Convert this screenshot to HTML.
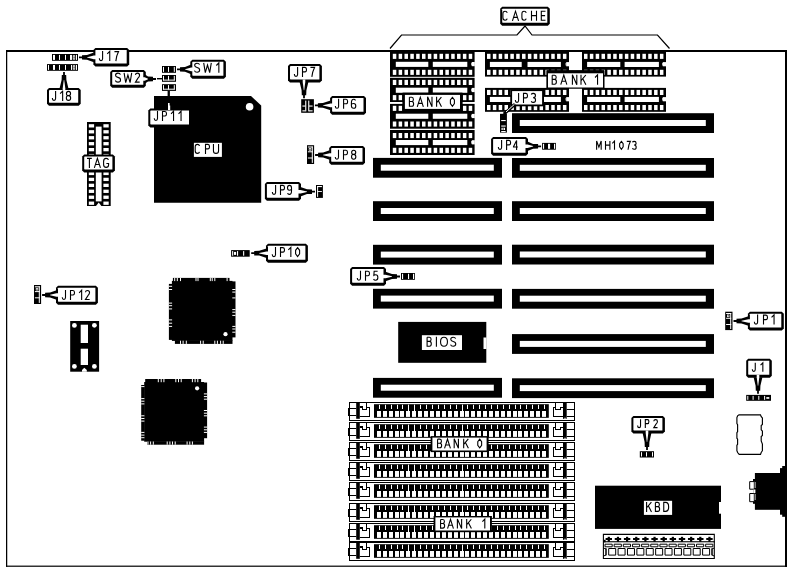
<!DOCTYPE html>
<html lang="en"><head><meta charset="utf-8"><title>MH1073 motherboard layout</title><style>
html,body{margin:0;padding:0;background:#fff;}
svg{display:block;font-family:"Liberation Sans",sans-serif;}
</style></head><body>
<svg width="791" height="572" viewBox="0 0 791 572" role="img" aria-label="MH1073 motherboard layout diagram">
<rect x="6.00" y="50.00" width="781.00" height="2.00" fill="#000" />
<rect x="6.00" y="565.60" width="781.00" height="1.20" fill="#000" />
<rect x="6.00" y="50.00" width="1.25" height="516.80" fill="#000" />
<rect x="785.00" y="50.00" width="2.00" height="517.00" fill="#000" />
<path d="M390,48.5 L401.5,35 H517 L525,26 L532,35 H657.5 L669.5,48.5" fill="none" stroke="#000" stroke-width="1.2" />
<rect x="390.00" y="50.50" width="84.60" height="26.30" fill="#000" />
<rect x="392.80" y="53.80" width="3.50" height="5.10" fill="#fff" />
<rect x="392.80" y="69.80" width="3.50" height="5.10" fill="#fff" />
<rect x="398.64" y="53.80" width="3.50" height="5.10" fill="#fff" />
<rect x="398.64" y="69.80" width="3.50" height="5.10" fill="#fff" />
<rect x="404.48" y="53.80" width="3.50" height="5.10" fill="#fff" />
<rect x="404.48" y="69.80" width="3.50" height="5.10" fill="#fff" />
<rect x="410.32" y="53.80" width="3.50" height="5.10" fill="#fff" />
<rect x="410.32" y="69.80" width="3.50" height="5.10" fill="#fff" />
<rect x="416.16" y="53.80" width="3.50" height="5.10" fill="#fff" />
<rect x="416.16" y="69.80" width="3.50" height="5.10" fill="#fff" />
<rect x="422.00" y="53.80" width="3.50" height="5.10" fill="#fff" />
<rect x="422.00" y="69.80" width="3.50" height="5.10" fill="#fff" />
<rect x="427.84" y="53.80" width="3.50" height="5.10" fill="#fff" />
<rect x="427.84" y="69.80" width="3.50" height="5.10" fill="#fff" />
<rect x="433.68" y="53.80" width="3.50" height="5.10" fill="#fff" />
<rect x="433.68" y="69.80" width="3.50" height="5.10" fill="#fff" />
<rect x="439.52" y="53.80" width="3.50" height="5.10" fill="#fff" />
<rect x="439.52" y="69.80" width="3.50" height="5.10" fill="#fff" />
<rect x="445.36" y="53.80" width="3.50" height="5.10" fill="#fff" />
<rect x="445.36" y="69.80" width="3.50" height="5.10" fill="#fff" />
<rect x="451.20" y="53.80" width="3.50" height="5.10" fill="#fff" />
<rect x="451.20" y="69.80" width="3.50" height="5.10" fill="#fff" />
<rect x="457.04" y="53.80" width="3.50" height="5.10" fill="#fff" />
<rect x="457.04" y="69.80" width="3.50" height="5.10" fill="#fff" />
<rect x="462.88" y="53.80" width="3.50" height="5.10" fill="#fff" />
<rect x="462.88" y="69.80" width="3.50" height="5.10" fill="#fff" />
<rect x="468.72" y="53.80" width="3.50" height="5.10" fill="#fff" />
<rect x="468.72" y="69.80" width="3.50" height="5.10" fill="#fff" />
<rect x="395.80" y="61.80" width="32.50" height="5.10" fill="#fff" />
<rect x="432.80" y="61.80" width="34.50" height="5.10" fill="#fff" />
<rect x="471.80" y="62.00" width="3.00" height="4.20" fill="#fff" />
<rect x="471.20" y="62.80" width="0.70" height="2.60" fill="#fff" />
<rect x="390.00" y="77.80" width="84.60" height="25.20" fill="#000" />
<rect x="392.80" y="79.90" width="3.50" height="5.10" fill="#fff" />
<rect x="392.80" y="95.10" width="3.50" height="5.10" fill="#fff" />
<rect x="398.64" y="79.90" width="3.50" height="5.10" fill="#fff" />
<rect x="398.64" y="95.10" width="3.50" height="5.10" fill="#fff" />
<rect x="404.48" y="79.90" width="3.50" height="5.10" fill="#fff" />
<rect x="404.48" y="95.10" width="3.50" height="5.10" fill="#fff" />
<rect x="410.32" y="79.90" width="3.50" height="5.10" fill="#fff" />
<rect x="410.32" y="95.10" width="3.50" height="5.10" fill="#fff" />
<rect x="416.16" y="79.90" width="3.50" height="5.10" fill="#fff" />
<rect x="416.16" y="95.10" width="3.50" height="5.10" fill="#fff" />
<rect x="422.00" y="79.90" width="3.50" height="5.10" fill="#fff" />
<rect x="422.00" y="95.10" width="3.50" height="5.10" fill="#fff" />
<rect x="427.84" y="79.90" width="3.50" height="5.10" fill="#fff" />
<rect x="427.84" y="95.10" width="3.50" height="5.10" fill="#fff" />
<rect x="433.68" y="79.90" width="3.50" height="5.10" fill="#fff" />
<rect x="433.68" y="95.10" width="3.50" height="5.10" fill="#fff" />
<rect x="439.52" y="79.90" width="3.50" height="5.10" fill="#fff" />
<rect x="439.52" y="95.10" width="3.50" height="5.10" fill="#fff" />
<rect x="445.36" y="79.90" width="3.50" height="5.10" fill="#fff" />
<rect x="445.36" y="95.10" width="3.50" height="5.10" fill="#fff" />
<rect x="451.20" y="79.90" width="3.50" height="5.10" fill="#fff" />
<rect x="451.20" y="95.10" width="3.50" height="5.10" fill="#fff" />
<rect x="457.04" y="79.90" width="3.50" height="5.10" fill="#fff" />
<rect x="457.04" y="95.10" width="3.50" height="5.10" fill="#fff" />
<rect x="462.88" y="79.90" width="3.50" height="5.10" fill="#fff" />
<rect x="462.88" y="95.10" width="3.50" height="5.10" fill="#fff" />
<rect x="468.72" y="79.90" width="3.50" height="5.10" fill="#fff" />
<rect x="468.72" y="95.10" width="3.50" height="5.10" fill="#fff" />
<rect x="395.80" y="87.70" width="32.50" height="5.10" fill="#fff" />
<rect x="432.80" y="87.70" width="34.50" height="5.10" fill="#fff" />
<rect x="471.80" y="87.90" width="3.00" height="4.20" fill="#fff" />
<rect x="471.20" y="88.70" width="0.70" height="2.60" fill="#fff" />
<rect x="390.00" y="103.00" width="84.60" height="25.70" fill="#000" />
<rect x="392.80" y="105.80" width="3.50" height="5.10" fill="#fff" />
<rect x="392.80" y="121.50" width="3.50" height="5.10" fill="#fff" />
<rect x="398.64" y="105.80" width="3.50" height="5.10" fill="#fff" />
<rect x="398.64" y="121.50" width="3.50" height="5.10" fill="#fff" />
<rect x="404.48" y="105.80" width="3.50" height="5.10" fill="#fff" />
<rect x="404.48" y="121.50" width="3.50" height="5.10" fill="#fff" />
<rect x="410.32" y="105.80" width="3.50" height="5.10" fill="#fff" />
<rect x="410.32" y="121.50" width="3.50" height="5.10" fill="#fff" />
<rect x="416.16" y="105.80" width="3.50" height="5.10" fill="#fff" />
<rect x="416.16" y="121.50" width="3.50" height="5.10" fill="#fff" />
<rect x="422.00" y="105.80" width="3.50" height="5.10" fill="#fff" />
<rect x="422.00" y="121.50" width="3.50" height="5.10" fill="#fff" />
<rect x="427.84" y="105.80" width="3.50" height="5.10" fill="#fff" />
<rect x="427.84" y="121.50" width="3.50" height="5.10" fill="#fff" />
<rect x="433.68" y="105.80" width="3.50" height="5.10" fill="#fff" />
<rect x="433.68" y="121.50" width="3.50" height="5.10" fill="#fff" />
<rect x="439.52" y="105.80" width="3.50" height="5.10" fill="#fff" />
<rect x="439.52" y="121.50" width="3.50" height="5.10" fill="#fff" />
<rect x="445.36" y="105.80" width="3.50" height="5.10" fill="#fff" />
<rect x="445.36" y="121.50" width="3.50" height="5.10" fill="#fff" />
<rect x="451.20" y="105.80" width="3.50" height="5.10" fill="#fff" />
<rect x="451.20" y="121.50" width="3.50" height="5.10" fill="#fff" />
<rect x="457.04" y="105.80" width="3.50" height="5.10" fill="#fff" />
<rect x="457.04" y="121.50" width="3.50" height="5.10" fill="#fff" />
<rect x="462.88" y="105.80" width="3.50" height="5.10" fill="#fff" />
<rect x="462.88" y="121.50" width="3.50" height="5.10" fill="#fff" />
<rect x="468.72" y="105.80" width="3.50" height="5.10" fill="#fff" />
<rect x="468.72" y="121.50" width="3.50" height="5.10" fill="#fff" />
<rect x="395.80" y="113.70" width="32.50" height="5.10" fill="#fff" />
<rect x="432.80" y="113.70" width="34.50" height="5.10" fill="#fff" />
<rect x="471.80" y="113.90" width="3.00" height="4.20" fill="#fff" />
<rect x="471.20" y="114.70" width="0.70" height="2.60" fill="#fff" />
<rect x="390.00" y="130.00" width="84.60" height="25.00" fill="#000" />
<rect x="392.80" y="133.00" width="3.50" height="5.10" fill="#fff" />
<rect x="392.80" y="147.80" width="3.50" height="5.10" fill="#fff" />
<rect x="398.64" y="133.00" width="3.50" height="5.10" fill="#fff" />
<rect x="398.64" y="147.80" width="3.50" height="5.10" fill="#fff" />
<rect x="404.48" y="133.00" width="3.50" height="5.10" fill="#fff" />
<rect x="404.48" y="147.80" width="3.50" height="5.10" fill="#fff" />
<rect x="410.32" y="133.00" width="3.50" height="5.10" fill="#fff" />
<rect x="410.32" y="147.80" width="3.50" height="5.10" fill="#fff" />
<rect x="416.16" y="133.00" width="3.50" height="5.10" fill="#fff" />
<rect x="416.16" y="147.80" width="3.50" height="5.10" fill="#fff" />
<rect x="422.00" y="133.00" width="3.50" height="5.10" fill="#fff" />
<rect x="422.00" y="147.80" width="3.50" height="5.10" fill="#fff" />
<rect x="427.84" y="133.00" width="3.50" height="5.10" fill="#fff" />
<rect x="427.84" y="147.80" width="3.50" height="5.10" fill="#fff" />
<rect x="433.68" y="133.00" width="3.50" height="5.10" fill="#fff" />
<rect x="433.68" y="147.80" width="3.50" height="5.10" fill="#fff" />
<rect x="439.52" y="133.00" width="3.50" height="5.10" fill="#fff" />
<rect x="439.52" y="147.80" width="3.50" height="5.10" fill="#fff" />
<rect x="445.36" y="133.00" width="3.50" height="5.10" fill="#fff" />
<rect x="445.36" y="147.80" width="3.50" height="5.10" fill="#fff" />
<rect x="451.20" y="133.00" width="3.50" height="5.10" fill="#fff" />
<rect x="451.20" y="147.80" width="3.50" height="5.10" fill="#fff" />
<rect x="457.04" y="133.00" width="3.50" height="5.10" fill="#fff" />
<rect x="457.04" y="147.80" width="3.50" height="5.10" fill="#fff" />
<rect x="462.88" y="133.00" width="3.50" height="5.10" fill="#fff" />
<rect x="462.88" y="147.80" width="3.50" height="5.10" fill="#fff" />
<rect x="468.72" y="133.00" width="3.50" height="5.10" fill="#fff" />
<rect x="468.72" y="147.80" width="3.50" height="5.10" fill="#fff" />
<rect x="395.80" y="140.00" width="32.50" height="5.10" fill="#fff" />
<rect x="432.80" y="140.00" width="34.50" height="5.10" fill="#fff" />
<rect x="471.80" y="140.20" width="3.00" height="4.20" fill="#fff" />
<rect x="471.20" y="141.00" width="0.70" height="2.60" fill="#fff" />
<rect x="485.00" y="50.50" width="84.00" height="26.10" fill="#000" />
<rect x="487.00" y="53.80" width="3.50" height="5.10" fill="#fff" />
<rect x="487.00" y="69.80" width="3.50" height="5.10" fill="#fff" />
<rect x="492.84" y="53.80" width="3.50" height="5.10" fill="#fff" />
<rect x="492.84" y="69.80" width="3.50" height="5.10" fill="#fff" />
<rect x="498.68" y="53.80" width="3.50" height="5.10" fill="#fff" />
<rect x="498.68" y="69.80" width="3.50" height="5.10" fill="#fff" />
<rect x="504.52" y="53.80" width="3.50" height="5.10" fill="#fff" />
<rect x="504.52" y="69.80" width="3.50" height="5.10" fill="#fff" />
<rect x="510.36" y="53.80" width="3.50" height="5.10" fill="#fff" />
<rect x="510.36" y="69.80" width="3.50" height="5.10" fill="#fff" />
<rect x="516.20" y="53.80" width="3.50" height="5.10" fill="#fff" />
<rect x="516.20" y="69.80" width="3.50" height="5.10" fill="#fff" />
<rect x="522.04" y="53.80" width="3.50" height="5.10" fill="#fff" />
<rect x="522.04" y="69.80" width="3.50" height="5.10" fill="#fff" />
<rect x="527.88" y="53.80" width="3.50" height="5.10" fill="#fff" />
<rect x="527.88" y="69.80" width="3.50" height="5.10" fill="#fff" />
<rect x="533.72" y="53.80" width="3.50" height="5.10" fill="#fff" />
<rect x="533.72" y="69.80" width="3.50" height="5.10" fill="#fff" />
<rect x="539.56" y="53.80" width="3.50" height="5.10" fill="#fff" />
<rect x="539.56" y="69.80" width="3.50" height="5.10" fill="#fff" />
<rect x="545.40" y="53.80" width="3.50" height="5.10" fill="#fff" />
<rect x="545.40" y="69.80" width="3.50" height="5.10" fill="#fff" />
<rect x="551.24" y="53.80" width="3.50" height="5.10" fill="#fff" />
<rect x="551.24" y="69.80" width="3.50" height="5.10" fill="#fff" />
<rect x="557.08" y="53.80" width="3.50" height="5.10" fill="#fff" />
<rect x="557.08" y="69.80" width="3.50" height="5.10" fill="#fff" />
<rect x="562.92" y="53.80" width="3.50" height="5.10" fill="#fff" />
<rect x="562.92" y="69.80" width="3.50" height="5.10" fill="#fff" />
<rect x="489.90" y="61.90" width="31.80" height="5.10" fill="#fff" />
<rect x="527.50" y="61.90" width="33.40" height="5.10" fill="#fff" />
<rect x="566.20" y="62.10" width="3.00" height="4.20" fill="#fff" />
<rect x="565.60" y="62.90" width="0.70" height="2.60" fill="#fff" />
<rect x="582.00" y="50.50" width="84.00" height="26.10" fill="#000" />
<rect x="584.00" y="53.80" width="3.50" height="5.10" fill="#fff" />
<rect x="584.00" y="69.80" width="3.50" height="5.10" fill="#fff" />
<rect x="589.84" y="53.80" width="3.50" height="5.10" fill="#fff" />
<rect x="589.84" y="69.80" width="3.50" height="5.10" fill="#fff" />
<rect x="595.68" y="53.80" width="3.50" height="5.10" fill="#fff" />
<rect x="595.68" y="69.80" width="3.50" height="5.10" fill="#fff" />
<rect x="601.52" y="53.80" width="3.50" height="5.10" fill="#fff" />
<rect x="601.52" y="69.80" width="3.50" height="5.10" fill="#fff" />
<rect x="607.36" y="53.80" width="3.50" height="5.10" fill="#fff" />
<rect x="607.36" y="69.80" width="3.50" height="5.10" fill="#fff" />
<rect x="613.20" y="53.80" width="3.50" height="5.10" fill="#fff" />
<rect x="613.20" y="69.80" width="3.50" height="5.10" fill="#fff" />
<rect x="619.04" y="53.80" width="3.50" height="5.10" fill="#fff" />
<rect x="619.04" y="69.80" width="3.50" height="5.10" fill="#fff" />
<rect x="624.88" y="53.80" width="3.50" height="5.10" fill="#fff" />
<rect x="624.88" y="69.80" width="3.50" height="5.10" fill="#fff" />
<rect x="630.72" y="53.80" width="3.50" height="5.10" fill="#fff" />
<rect x="630.72" y="69.80" width="3.50" height="5.10" fill="#fff" />
<rect x="636.56" y="53.80" width="3.50" height="5.10" fill="#fff" />
<rect x="636.56" y="69.80" width="3.50" height="5.10" fill="#fff" />
<rect x="642.40" y="53.80" width="3.50" height="5.10" fill="#fff" />
<rect x="642.40" y="69.80" width="3.50" height="5.10" fill="#fff" />
<rect x="648.24" y="53.80" width="3.50" height="5.10" fill="#fff" />
<rect x="648.24" y="69.80" width="3.50" height="5.10" fill="#fff" />
<rect x="654.08" y="53.80" width="3.50" height="5.10" fill="#fff" />
<rect x="654.08" y="69.80" width="3.50" height="5.10" fill="#fff" />
<rect x="659.92" y="53.80" width="3.50" height="5.10" fill="#fff" />
<rect x="659.92" y="69.80" width="3.50" height="5.10" fill="#fff" />
<rect x="587.10" y="61.90" width="33.20" height="5.10" fill="#fff" />
<rect x="624.60" y="61.90" width="34.30" height="5.10" fill="#fff" />
<rect x="662.80" y="62.10" width="3.40" height="4.20" fill="#fff" />
<rect x="662.20" y="62.90" width="0.70" height="2.60" fill="#fff" />
<rect x="485.00" y="87.90" width="84.00" height="23.90" fill="#000" />
<rect x="487.00" y="89.90" width="3.50" height="5.10" fill="#fff" />
<rect x="487.00" y="105.00" width="3.50" height="5.10" fill="#fff" />
<rect x="492.84" y="89.90" width="3.50" height="5.10" fill="#fff" />
<rect x="492.84" y="105.00" width="3.50" height="5.10" fill="#fff" />
<rect x="498.68" y="89.90" width="3.50" height="5.10" fill="#fff" />
<rect x="498.68" y="105.00" width="3.50" height="5.10" fill="#fff" />
<rect x="504.52" y="89.90" width="3.50" height="5.10" fill="#fff" />
<rect x="504.52" y="105.00" width="3.50" height="5.10" fill="#fff" />
<rect x="510.36" y="89.90" width="3.50" height="5.10" fill="#fff" />
<rect x="510.36" y="105.00" width="3.50" height="5.10" fill="#fff" />
<rect x="516.20" y="89.90" width="3.50" height="5.10" fill="#fff" />
<rect x="516.20" y="105.00" width="3.50" height="5.10" fill="#fff" />
<rect x="522.04" y="89.90" width="3.50" height="5.10" fill="#fff" />
<rect x="522.04" y="105.00" width="3.50" height="5.10" fill="#fff" />
<rect x="527.88" y="89.90" width="3.50" height="5.10" fill="#fff" />
<rect x="527.88" y="105.00" width="3.50" height="5.10" fill="#fff" />
<rect x="533.72" y="89.90" width="3.50" height="5.10" fill="#fff" />
<rect x="533.72" y="105.00" width="3.50" height="5.10" fill="#fff" />
<rect x="539.56" y="89.90" width="3.50" height="5.10" fill="#fff" />
<rect x="539.56" y="105.00" width="3.50" height="5.10" fill="#fff" />
<rect x="545.40" y="89.90" width="3.50" height="5.10" fill="#fff" />
<rect x="545.40" y="105.00" width="3.50" height="5.10" fill="#fff" />
<rect x="551.24" y="89.90" width="3.50" height="5.10" fill="#fff" />
<rect x="551.24" y="105.00" width="3.50" height="5.10" fill="#fff" />
<rect x="557.08" y="89.90" width="3.50" height="5.10" fill="#fff" />
<rect x="557.08" y="105.00" width="3.50" height="5.10" fill="#fff" />
<rect x="562.92" y="89.90" width="3.50" height="5.10" fill="#fff" />
<rect x="562.92" y="105.00" width="3.50" height="5.10" fill="#fff" />
<rect x="489.90" y="96.90" width="31.80" height="5.10" fill="#fff" />
<rect x="527.50" y="96.90" width="33.40" height="5.10" fill="#fff" />
<rect x="566.20" y="97.10" width="3.00" height="4.20" fill="#fff" />
<rect x="565.60" y="97.90" width="0.70" height="2.60" fill="#fff" />
<rect x="582.00" y="87.90" width="84.00" height="23.90" fill="#000" />
<rect x="584.00" y="89.90" width="3.50" height="5.10" fill="#fff" />
<rect x="584.00" y="105.00" width="3.50" height="5.10" fill="#fff" />
<rect x="589.84" y="89.90" width="3.50" height="5.10" fill="#fff" />
<rect x="589.84" y="105.00" width="3.50" height="5.10" fill="#fff" />
<rect x="595.68" y="89.90" width="3.50" height="5.10" fill="#fff" />
<rect x="595.68" y="105.00" width="3.50" height="5.10" fill="#fff" />
<rect x="601.52" y="89.90" width="3.50" height="5.10" fill="#fff" />
<rect x="601.52" y="105.00" width="3.50" height="5.10" fill="#fff" />
<rect x="607.36" y="89.90" width="3.50" height="5.10" fill="#fff" />
<rect x="607.36" y="105.00" width="3.50" height="5.10" fill="#fff" />
<rect x="613.20" y="89.90" width="3.50" height="5.10" fill="#fff" />
<rect x="613.20" y="105.00" width="3.50" height="5.10" fill="#fff" />
<rect x="619.04" y="89.90" width="3.50" height="5.10" fill="#fff" />
<rect x="619.04" y="105.00" width="3.50" height="5.10" fill="#fff" />
<rect x="624.88" y="89.90" width="3.50" height="5.10" fill="#fff" />
<rect x="624.88" y="105.00" width="3.50" height="5.10" fill="#fff" />
<rect x="630.72" y="89.90" width="3.50" height="5.10" fill="#fff" />
<rect x="630.72" y="105.00" width="3.50" height="5.10" fill="#fff" />
<rect x="636.56" y="89.90" width="3.50" height="5.10" fill="#fff" />
<rect x="636.56" y="105.00" width="3.50" height="5.10" fill="#fff" />
<rect x="642.40" y="89.90" width="3.50" height="5.10" fill="#fff" />
<rect x="642.40" y="105.00" width="3.50" height="5.10" fill="#fff" />
<rect x="648.24" y="89.90" width="3.50" height="5.10" fill="#fff" />
<rect x="648.24" y="105.00" width="3.50" height="5.10" fill="#fff" />
<rect x="654.08" y="89.90" width="3.50" height="5.10" fill="#fff" />
<rect x="654.08" y="105.00" width="3.50" height="5.10" fill="#fff" />
<rect x="659.92" y="89.90" width="3.50" height="5.10" fill="#fff" />
<rect x="659.92" y="105.00" width="3.50" height="5.10" fill="#fff" />
<rect x="587.10" y="96.90" width="33.20" height="5.10" fill="#fff" />
<rect x="624.60" y="96.90" width="34.30" height="5.10" fill="#fff" />
<rect x="662.80" y="97.10" width="3.40" height="4.20" fill="#fff" />
<rect x="662.20" y="97.90" width="0.70" height="2.60" fill="#fff" />
<rect x="390.00" y="102.00" width="85.00" height="1.90" fill="#fff" />
<rect x="373.00" y="157.90" width="129.00" height="19.80" fill="#000" />
<rect x="380.80" y="164.70" width="113.00" height="6.00" fill="#fff" />
<rect x="373.00" y="201.20" width="129.00" height="19.80" fill="#000" />
<rect x="380.80" y="208.00" width="113.00" height="6.00" fill="#fff" />
<rect x="373.00" y="244.80" width="129.00" height="19.80" fill="#000" />
<rect x="380.80" y="251.60" width="113.00" height="6.00" fill="#fff" />
<rect x="373.00" y="288.80" width="129.00" height="19.80" fill="#000" />
<rect x="380.80" y="295.60" width="113.00" height="6.00" fill="#fff" />
<rect x="373.00" y="377.90" width="129.00" height="19.80" fill="#000" />
<rect x="380.80" y="384.70" width="113.00" height="6.00" fill="#fff" />
<rect x="512.00" y="113.20" width="202.00" height="19.80" fill="#000" />
<rect x="519.80" y="120.00" width="186.00" height="6.00" fill="#fff" />
<rect x="512.00" y="158.00" width="202.00" height="19.80" fill="#000" />
<rect x="519.80" y="164.80" width="186.00" height="6.00" fill="#fff" />
<rect x="512.00" y="201.20" width="202.00" height="19.80" fill="#000" />
<rect x="519.80" y="208.00" width="186.00" height="6.00" fill="#fff" />
<rect x="512.00" y="244.70" width="202.00" height="19.80" fill="#000" />
<rect x="519.80" y="251.50" width="186.00" height="6.00" fill="#fff" />
<rect x="512.00" y="288.90" width="202.00" height="19.80" fill="#000" />
<rect x="519.80" y="295.70" width="186.00" height="6.00" fill="#fff" />
<rect x="512.00" y="334.10" width="202.00" height="19.80" fill="#000" />
<rect x="519.80" y="340.90" width="186.00" height="6.00" fill="#fff" />
<rect x="512.00" y="378.30" width="202.00" height="19.80" fill="#000" />
<rect x="519.80" y="385.10" width="186.00" height="6.00" fill="#fff" />
<rect x="398.20" y="321.90" width="88.10" height="40.90" fill="#000" />
<rect x="483.50" y="337.50" width="3.00" height="11.50" fill="#fff" />
<rect x="595.00" y="485.70" width="126.00" height="43.20" fill="#000" />
<rect x="719.00" y="502.00" width="2.20" height="11.70" fill="#fff" />
<path d="M154,96 H251 L261.2,105.5 V202.8 H154 Z" fill="#000" stroke="none" stroke-width="1" />
<circle cx="249.60" cy="106.80" r="3.8" fill="#fff"/>
<rect x="171.90" y="280.90" width="60.60" height="60.00" fill="#000" />
<rect x="172.90" y="277.90" width="56.60" height="3.50" fill="#000" />
<rect x="174.90" y="340.40" width="57.60" height="3.50" fill="#000" />
<rect x="168.90" y="283.90" width="3.50" height="56.00" fill="#000" />
<rect x="232.00" y="281.40" width="3.50" height="56.00" fill="#000" />
<rect x="174.20" y="277.90" width="1.00" height="3.20" fill="#fff" />
<rect x="176.80" y="277.90" width="1.00" height="3.20" fill="#fff" />
<rect x="180.00" y="277.90" width="1.00" height="3.20" fill="#fff" />
<rect x="195.50" y="277.90" width="1.00" height="3.20" fill="#fff" />
<rect x="197.50" y="277.90" width="1.00" height="3.20" fill="#fff" />
<rect x="209.80" y="277.90" width="1.00" height="3.20" fill="#fff" />
<rect x="211.70" y="277.90" width="1.00" height="3.20" fill="#fff" />
<rect x="214.30" y="277.90" width="1.00" height="3.20" fill="#fff" />
<rect x="226.60" y="277.90" width="1.00" height="3.20" fill="#fff" />
<rect x="180.00" y="340.70" width="1.00" height="3.20" fill="#fff" />
<rect x="182.60" y="340.70" width="1.00" height="3.20" fill="#fff" />
<rect x="185.80" y="340.70" width="1.00" height="3.20" fill="#fff" />
<rect x="200.10" y="340.70" width="1.00" height="3.20" fill="#fff" />
<rect x="202.70" y="340.70" width="1.00" height="3.20" fill="#fff" />
<rect x="214.30" y="340.70" width="1.00" height="3.20" fill="#fff" />
<rect x="216.90" y="340.70" width="1.00" height="3.20" fill="#fff" />
<rect x="220.10" y="340.70" width="1.00" height="3.20" fill="#fff" />
<rect x="222.70" y="340.70" width="1.00" height="3.20" fill="#fff" />
<rect x="168.90" y="285.80" width="3.20" height="1.00" fill="#fff" />
<rect x="168.90" y="289.00" width="3.20" height="1.00" fill="#fff" />
<rect x="168.90" y="302.60" width="3.20" height="1.00" fill="#fff" />
<rect x="168.90" y="305.20" width="3.20" height="1.00" fill="#fff" />
<rect x="168.90" y="308.40" width="3.20" height="1.00" fill="#fff" />
<rect x="168.90" y="319.40" width="3.20" height="1.00" fill="#fff" />
<rect x="168.90" y="322.70" width="3.20" height="1.00" fill="#fff" />
<rect x="168.90" y="325.90" width="3.20" height="1.00" fill="#fff" />
<rect x="232.30" y="289.00" width="3.20" height="1.00" fill="#fff" />
<rect x="232.30" y="291.60" width="3.20" height="1.00" fill="#fff" />
<rect x="232.30" y="297.40" width="3.20" height="1.00" fill="#fff" />
<rect x="232.30" y="309.10" width="3.20" height="1.00" fill="#fff" />
<rect x="232.30" y="311.70" width="3.20" height="1.00" fill="#fff" />
<rect x="232.30" y="314.90" width="3.20" height="1.00" fill="#fff" />
<rect x="232.30" y="325.90" width="3.20" height="1.00" fill="#fff" />
<rect x="232.30" y="328.50" width="3.20" height="1.00" fill="#fff" />
<rect x="232.30" y="331.70" width="3.20" height="1.00" fill="#fff" />
<circle cx="225.50" cy="334.20" r="2.1" fill="#fff"/>
<rect x="144.20" y="382.00" width="59.90" height="59.70" fill="#000" />
<rect x="145.20" y="379.00" width="55.90" height="3.50" fill="#000" />
<rect x="147.20" y="441.20" width="56.90" height="3.50" fill="#000" />
<rect x="141.20" y="385.00" width="3.50" height="55.70" fill="#000" />
<rect x="203.60" y="382.50" width="3.50" height="55.70" fill="#000" />
<rect x="157.80" y="379.00" width="1.00" height="3.20" fill="#fff" />
<rect x="160.70" y="379.00" width="1.00" height="3.20" fill="#fff" />
<rect x="163.40" y="379.00" width="1.00" height="3.20" fill="#fff" />
<rect x="175.30" y="379.00" width="1.00" height="3.20" fill="#fff" />
<rect x="178.00" y="379.00" width="1.00" height="3.20" fill="#fff" />
<rect x="180.70" y="379.00" width="1.00" height="3.20" fill="#fff" />
<rect x="191.90" y="379.00" width="1.00" height="3.20" fill="#fff" />
<rect x="194.60" y="379.00" width="1.00" height="3.20" fill="#fff" />
<rect x="197.30" y="379.00" width="1.00" height="3.20" fill="#fff" />
<rect x="147.50" y="441.50" width="1.00" height="3.20" fill="#fff" />
<rect x="150.10" y="441.50" width="1.00" height="3.20" fill="#fff" />
<rect x="152.80" y="441.50" width="1.00" height="3.20" fill="#fff" />
<rect x="166.70" y="441.50" width="1.00" height="3.20" fill="#fff" />
<rect x="169.40" y="441.50" width="1.00" height="3.20" fill="#fff" />
<rect x="172.00" y="441.50" width="1.00" height="3.20" fill="#fff" />
<rect x="174.70" y="441.50" width="1.00" height="3.20" fill="#fff" />
<rect x="186.60" y="441.50" width="1.00" height="3.20" fill="#fff" />
<rect x="189.30" y="441.50" width="1.00" height="3.20" fill="#fff" />
<rect x="191.90" y="441.50" width="1.00" height="3.20" fill="#fff" />
<rect x="141.20" y="386.10" width="3.20" height="1.00" fill="#fff" />
<rect x="141.20" y="398.10" width="3.20" height="1.00" fill="#fff" />
<rect x="141.20" y="400.70" width="3.20" height="1.00" fill="#fff" />
<rect x="141.20" y="403.40" width="3.20" height="1.00" fill="#fff" />
<rect x="141.20" y="415.30" width="3.20" height="1.00" fill="#fff" />
<rect x="141.20" y="418.00" width="3.20" height="1.00" fill="#fff" />
<rect x="141.20" y="420.60" width="3.20" height="1.00" fill="#fff" />
<rect x="141.20" y="431.90" width="3.20" height="1.00" fill="#fff" />
<rect x="141.20" y="434.60" width="3.20" height="1.00" fill="#fff" />
<rect x="141.20" y="437.20" width="3.20" height="1.00" fill="#fff" />
<rect x="203.90" y="393.40" width="3.20" height="1.00" fill="#fff" />
<rect x="203.90" y="396.10" width="3.20" height="1.00" fill="#fff" />
<rect x="203.90" y="398.70" width="3.20" height="1.00" fill="#fff" />
<rect x="203.90" y="410.00" width="3.20" height="1.00" fill="#fff" />
<rect x="203.90" y="412.70" width="3.20" height="1.00" fill="#fff" />
<rect x="203.90" y="415.30" width="3.20" height="1.00" fill="#fff" />
<rect x="203.90" y="426.60" width="3.20" height="1.00" fill="#fff" />
<rect x="203.90" y="429.30" width="3.20" height="1.00" fill="#fff" />
<rect x="203.90" y="431.90" width="3.20" height="1.00" fill="#fff" />
<circle cx="197.10" cy="388.30" r="2.1" fill="#fff"/>
<rect x="70.20" y="321.00" width="28.90" height="50.70" fill="#000" />
<rect x="80.70" y="324.70" width="7.30" height="18.30" fill="#fff" />
<rect x="80.70" y="348.70" width="7.30" height="16.30" fill="#fff" />
<circle cx="74.40" cy="325.40" r="2.4" fill="#fff"/>
<circle cx="94.40" cy="325.30" r="2.4" fill="#fff"/>
<circle cx="74.40" cy="366.40" r="2.4" fill="#fff"/>
<circle cx="94.40" cy="366.40" r="2.4" fill="#fff"/>
<path d="M82,371.8 V370 L84.3,367.8 L86.8,370 V371.8 Z" fill="#fff" stroke="none" stroke-width="1" />
<rect x="87.00" y="122.00" width="23.70" height="84.00" fill="#000" />
<rect x="95.80" y="126.60" width="5.80" height="74.80" fill="#fff" />
<rect x="88.80" y="124.20" width="5.30" height="3.30" fill="#fff" />
<rect x="103.40" y="124.20" width="5.30" height="3.30" fill="#fff" />
<rect x="88.80" y="130.15" width="5.30" height="3.30" fill="#fff" />
<rect x="103.40" y="130.15" width="5.30" height="3.30" fill="#fff" />
<rect x="88.80" y="136.10" width="5.30" height="3.30" fill="#fff" />
<rect x="103.40" y="136.10" width="5.30" height="3.30" fill="#fff" />
<rect x="88.80" y="142.05" width="5.30" height="3.30" fill="#fff" />
<rect x="103.40" y="142.05" width="5.30" height="3.30" fill="#fff" />
<rect x="88.80" y="148.00" width="5.30" height="3.30" fill="#fff" />
<rect x="103.40" y="148.00" width="5.30" height="3.30" fill="#fff" />
<rect x="88.80" y="153.95" width="5.30" height="3.30" fill="#fff" />
<rect x="103.40" y="153.95" width="5.30" height="3.30" fill="#fff" />
<rect x="88.80" y="159.90" width="5.30" height="3.30" fill="#fff" />
<rect x="103.40" y="159.90" width="5.30" height="3.30" fill="#fff" />
<rect x="88.80" y="165.85" width="5.30" height="3.30" fill="#fff" />
<rect x="103.40" y="165.85" width="5.30" height="3.30" fill="#fff" />
<rect x="88.80" y="171.80" width="5.30" height="3.30" fill="#fff" />
<rect x="103.40" y="171.80" width="5.30" height="3.30" fill="#fff" />
<rect x="88.80" y="177.75" width="5.30" height="3.30" fill="#fff" />
<rect x="103.40" y="177.75" width="5.30" height="3.30" fill="#fff" />
<rect x="88.80" y="183.70" width="5.30" height="3.30" fill="#fff" />
<rect x="103.40" y="183.70" width="5.30" height="3.30" fill="#fff" />
<rect x="88.80" y="189.65" width="5.30" height="3.30" fill="#fff" />
<rect x="103.40" y="189.65" width="5.30" height="3.30" fill="#fff" />
<rect x="88.80" y="195.60" width="5.30" height="3.30" fill="#fff" />
<rect x="103.40" y="195.60" width="5.30" height="3.30" fill="#fff" />
<rect x="88.80" y="201.55" width="5.30" height="3.30" fill="#fff" />
<rect x="103.40" y="201.55" width="5.30" height="3.30" fill="#fff" />
<path d="M96,206 L98.7,202.5 L101.4,206 Z" fill="#fff" stroke="none" stroke-width="1" />
<rect x="349.00" y="402.00" width="226.00" height="1.00" fill="#000" />
<rect x="349.00" y="420.00" width="226.00" height="1.00" fill="#000" />
<rect x="349.00" y="402.00" width="1.00" height="19.00" fill="#000" />
<rect x="574.00" y="402.00" width="1.00" height="19.00" fill="#000" />
<rect x="348.00" y="408.00" width="8.20" height="1.00" fill="#000" />
<rect x="348.00" y="408.00" width="1.00" height="8.00" fill="#000" />
<rect x="348.00" y="415.00" width="8.20" height="1.00" fill="#000" />
<rect x="356.20" y="402.00" width="3.60" height="16.80" fill="#000" />
<rect x="366.00" y="403.00" width="1.00" height="6.00" fill="#000" />
<rect x="362.00" y="409.00" width="5.00" height="1.00" fill="#000" />
<rect x="359.80" y="406.00" width="3.00" height="2.00" fill="#000" />
<rect x="362.00" y="406.00" width="1.00" height="4.00" fill="#000" />
<rect x="366.00" y="407.00" width="4.00" height="1.00" fill="#000" />
<rect x="369.00" y="407.00" width="1.00" height="10.00" fill="#000" />
<rect x="359.80" y="416.00" width="10.20" height="1.00" fill="#000" />
<rect x="374.00" y="404.20" width="174.80" height="13.60" fill="#000" />
<rect x="379.00" y="404.80" width="1.00" height="4.20" fill="#fff" />
<rect x="377.00" y="411.00" width="4.00" height="5.90" fill="#fff" />
<rect x="385.00" y="404.80" width="1.00" height="4.20" fill="#fff" />
<rect x="383.00" y="411.00" width="4.00" height="5.90" fill="#fff" />
<rect x="391.00" y="404.80" width="1.00" height="4.20" fill="#fff" />
<rect x="389.00" y="411.00" width="4.00" height="5.90" fill="#fff" />
<rect x="397.00" y="404.80" width="1.00" height="4.20" fill="#fff" />
<rect x="395.00" y="411.00" width="4.00" height="5.90" fill="#fff" />
<rect x="402.00" y="404.80" width="1.00" height="4.20" fill="#fff" />
<rect x="400.00" y="411.00" width="4.00" height="5.90" fill="#fff" />
<rect x="408.00" y="404.80" width="1.00" height="4.20" fill="#fff" />
<rect x="406.00" y="411.00" width="4.00" height="5.90" fill="#fff" />
<rect x="414.00" y="404.80" width="1.00" height="4.20" fill="#fff" />
<rect x="412.00" y="411.00" width="4.00" height="5.90" fill="#fff" />
<rect x="420.00" y="404.80" width="1.00" height="4.20" fill="#fff" />
<rect x="418.00" y="411.00" width="4.00" height="5.90" fill="#fff" />
<rect x="426.00" y="404.80" width="1.00" height="4.20" fill="#fff" />
<rect x="424.00" y="411.00" width="4.00" height="5.90" fill="#fff" />
<rect x="432.00" y="404.80" width="1.00" height="4.20" fill="#fff" />
<rect x="430.00" y="411.00" width="4.00" height="5.90" fill="#fff" />
<rect x="438.00" y="404.80" width="1.00" height="4.20" fill="#fff" />
<rect x="436.00" y="411.00" width="4.00" height="5.90" fill="#fff" />
<rect x="444.00" y="404.80" width="1.00" height="4.20" fill="#fff" />
<rect x="442.00" y="411.00" width="4.00" height="5.90" fill="#fff" />
<rect x="450.00" y="404.80" width="1.00" height="4.20" fill="#fff" />
<rect x="448.00" y="411.00" width="4.00" height="5.90" fill="#fff" />
<rect x="456.00" y="404.80" width="1.00" height="4.20" fill="#fff" />
<rect x="454.00" y="411.00" width="4.00" height="5.90" fill="#fff" />
<rect x="462.00" y="404.80" width="1.00" height="4.20" fill="#fff" />
<rect x="460.00" y="411.00" width="4.00" height="5.90" fill="#fff" />
<rect x="467.00" y="404.80" width="1.00" height="4.20" fill="#fff" />
<rect x="465.00" y="411.00" width="4.00" height="5.90" fill="#fff" />
<rect x="473.00" y="404.80" width="1.00" height="4.20" fill="#fff" />
<rect x="471.00" y="411.00" width="4.00" height="5.90" fill="#fff" />
<rect x="479.00" y="404.80" width="1.00" height="4.20" fill="#fff" />
<rect x="477.00" y="411.00" width="4.00" height="5.90" fill="#fff" />
<rect x="485.00" y="404.80" width="1.00" height="4.20" fill="#fff" />
<rect x="483.00" y="411.00" width="4.00" height="5.90" fill="#fff" />
<rect x="491.00" y="404.80" width="1.00" height="4.20" fill="#fff" />
<rect x="489.00" y="411.00" width="4.00" height="5.90" fill="#fff" />
<rect x="497.00" y="404.80" width="1.00" height="4.20" fill="#fff" />
<rect x="495.00" y="411.00" width="4.00" height="5.90" fill="#fff" />
<rect x="503.00" y="404.80" width="1.00" height="4.20" fill="#fff" />
<rect x="501.00" y="411.00" width="4.00" height="5.90" fill="#fff" />
<rect x="509.00" y="404.80" width="1.00" height="4.20" fill="#fff" />
<rect x="507.00" y="411.00" width="4.00" height="5.90" fill="#fff" />
<rect x="515.00" y="404.80" width="1.00" height="4.20" fill="#fff" />
<rect x="513.00" y="411.00" width="4.00" height="5.90" fill="#fff" />
<rect x="520.00" y="404.80" width="1.00" height="4.20" fill="#fff" />
<rect x="518.00" y="411.00" width="4.00" height="5.90" fill="#fff" />
<rect x="526.00" y="404.80" width="1.00" height="4.20" fill="#fff" />
<rect x="524.00" y="411.00" width="4.00" height="5.90" fill="#fff" />
<rect x="532.00" y="404.80" width="1.00" height="4.20" fill="#fff" />
<rect x="530.00" y="411.00" width="4.00" height="5.90" fill="#fff" />
<rect x="538.00" y="404.80" width="1.00" height="4.20" fill="#fff" />
<rect x="536.00" y="411.00" width="4.00" height="5.90" fill="#fff" />
<rect x="544.00" y="404.80" width="1.00" height="4.20" fill="#fff" />
<rect x="542.00" y="411.00" width="4.00" height="5.90" fill="#fff" />
<rect x="408.00" y="404.80" width="1.00" height="7.00" fill="#fff" />
<rect x="414.00" y="404.80" width="1.00" height="7.00" fill="#fff" />
<rect x="462.00" y="404.80" width="1.00" height="7.00" fill="#fff" />
<rect x="563.00" y="402.00" width="3.70" height="16.80" fill="#000" />
<rect x="564.40" y="417.70" width="1.20" height="1.20" fill="#fff" />
<rect x="566.70" y="409.00" width="7.50" height="1.00" fill="#000" />
<rect x="566.70" y="416.00" width="7.50" height="1.00" fill="#000" />
<rect x="555.00" y="403.00" width="1.00" height="6.00" fill="#000" />
<rect x="555.00" y="409.00" width="6.00" height="1.00" fill="#000" />
<rect x="560.00" y="407.00" width="1.00" height="3.00" fill="#000" />
<rect x="560.00" y="407.00" width="3.00" height="1.00" fill="#000" />
<rect x="553.00" y="407.00" width="1.00" height="10.00" fill="#000" />
<rect x="553.00" y="407.00" width="3.00" height="1.00" fill="#000" />
<rect x="553.00" y="416.00" width="10.00" height="1.00" fill="#000" />
<rect x="349.00" y="422.00" width="226.00" height="1.00" fill="#000" />
<rect x="349.00" y="440.00" width="226.00" height="1.00" fill="#000" />
<rect x="349.00" y="422.00" width="1.00" height="19.00" fill="#000" />
<rect x="574.00" y="422.00" width="1.00" height="19.00" fill="#000" />
<rect x="348.00" y="428.00" width="8.20" height="1.00" fill="#000" />
<rect x="348.00" y="428.00" width="1.00" height="8.00" fill="#000" />
<rect x="348.00" y="435.00" width="8.20" height="1.00" fill="#000" />
<rect x="356.20" y="422.00" width="3.60" height="16.80" fill="#000" />
<rect x="366.00" y="423.00" width="1.00" height="6.00" fill="#000" />
<rect x="362.00" y="429.00" width="5.00" height="1.00" fill="#000" />
<rect x="359.80" y="426.00" width="3.00" height="2.00" fill="#000" />
<rect x="362.00" y="426.00" width="1.00" height="4.00" fill="#000" />
<rect x="366.00" y="427.00" width="4.00" height="1.00" fill="#000" />
<rect x="369.00" y="427.00" width="1.00" height="10.00" fill="#000" />
<rect x="359.80" y="436.00" width="10.20" height="1.00" fill="#000" />
<rect x="374.00" y="424.20" width="174.80" height="13.60" fill="#000" />
<rect x="379.00" y="424.80" width="1.00" height="4.20" fill="#fff" />
<rect x="377.00" y="431.00" width="4.00" height="5.90" fill="#fff" />
<rect x="385.00" y="424.80" width="1.00" height="4.20" fill="#fff" />
<rect x="383.00" y="431.00" width="4.00" height="5.90" fill="#fff" />
<rect x="391.00" y="424.80" width="1.00" height="4.20" fill="#fff" />
<rect x="389.00" y="431.00" width="4.00" height="5.90" fill="#fff" />
<rect x="397.00" y="424.80" width="1.00" height="4.20" fill="#fff" />
<rect x="395.00" y="431.00" width="4.00" height="5.90" fill="#fff" />
<rect x="402.00" y="424.80" width="1.00" height="4.20" fill="#fff" />
<rect x="400.00" y="431.00" width="4.00" height="5.90" fill="#fff" />
<rect x="408.00" y="424.80" width="1.00" height="4.20" fill="#fff" />
<rect x="406.00" y="431.00" width="4.00" height="5.90" fill="#fff" />
<rect x="414.00" y="424.80" width="1.00" height="4.20" fill="#fff" />
<rect x="412.00" y="431.00" width="4.00" height="5.90" fill="#fff" />
<rect x="420.00" y="424.80" width="1.00" height="4.20" fill="#fff" />
<rect x="418.00" y="431.00" width="4.00" height="5.90" fill="#fff" />
<rect x="426.00" y="424.80" width="1.00" height="4.20" fill="#fff" />
<rect x="424.00" y="431.00" width="4.00" height="5.90" fill="#fff" />
<rect x="432.00" y="424.80" width="1.00" height="4.20" fill="#fff" />
<rect x="430.00" y="431.00" width="4.00" height="5.90" fill="#fff" />
<rect x="438.00" y="424.80" width="1.00" height="4.20" fill="#fff" />
<rect x="436.00" y="431.00" width="4.00" height="5.90" fill="#fff" />
<rect x="444.00" y="424.80" width="1.00" height="4.20" fill="#fff" />
<rect x="442.00" y="431.00" width="4.00" height="5.90" fill="#fff" />
<rect x="450.00" y="424.80" width="1.00" height="4.20" fill="#fff" />
<rect x="448.00" y="431.00" width="4.00" height="5.90" fill="#fff" />
<rect x="456.00" y="424.80" width="1.00" height="4.20" fill="#fff" />
<rect x="454.00" y="431.00" width="4.00" height="5.90" fill="#fff" />
<rect x="462.00" y="424.80" width="1.00" height="4.20" fill="#fff" />
<rect x="460.00" y="431.00" width="4.00" height="5.90" fill="#fff" />
<rect x="467.00" y="424.80" width="1.00" height="4.20" fill="#fff" />
<rect x="465.00" y="431.00" width="4.00" height="5.90" fill="#fff" />
<rect x="473.00" y="424.80" width="1.00" height="4.20" fill="#fff" />
<rect x="471.00" y="431.00" width="4.00" height="5.90" fill="#fff" />
<rect x="479.00" y="424.80" width="1.00" height="4.20" fill="#fff" />
<rect x="477.00" y="431.00" width="4.00" height="5.90" fill="#fff" />
<rect x="485.00" y="424.80" width="1.00" height="4.20" fill="#fff" />
<rect x="483.00" y="431.00" width="4.00" height="5.90" fill="#fff" />
<rect x="491.00" y="424.80" width="1.00" height="4.20" fill="#fff" />
<rect x="489.00" y="431.00" width="4.00" height="5.90" fill="#fff" />
<rect x="497.00" y="424.80" width="1.00" height="4.20" fill="#fff" />
<rect x="495.00" y="431.00" width="4.00" height="5.90" fill="#fff" />
<rect x="503.00" y="424.80" width="1.00" height="4.20" fill="#fff" />
<rect x="501.00" y="431.00" width="4.00" height="5.90" fill="#fff" />
<rect x="509.00" y="424.80" width="1.00" height="4.20" fill="#fff" />
<rect x="507.00" y="431.00" width="4.00" height="5.90" fill="#fff" />
<rect x="515.00" y="424.80" width="1.00" height="4.20" fill="#fff" />
<rect x="513.00" y="431.00" width="4.00" height="5.90" fill="#fff" />
<rect x="520.00" y="424.80" width="1.00" height="4.20" fill="#fff" />
<rect x="518.00" y="431.00" width="4.00" height="5.90" fill="#fff" />
<rect x="526.00" y="424.80" width="1.00" height="4.20" fill="#fff" />
<rect x="524.00" y="431.00" width="4.00" height="5.90" fill="#fff" />
<rect x="532.00" y="424.80" width="1.00" height="4.20" fill="#fff" />
<rect x="530.00" y="431.00" width="4.00" height="5.90" fill="#fff" />
<rect x="538.00" y="424.80" width="1.00" height="4.20" fill="#fff" />
<rect x="536.00" y="431.00" width="4.00" height="5.90" fill="#fff" />
<rect x="544.00" y="424.80" width="1.00" height="4.20" fill="#fff" />
<rect x="542.00" y="431.00" width="4.00" height="5.90" fill="#fff" />
<rect x="408.00" y="424.80" width="1.00" height="7.00" fill="#fff" />
<rect x="414.00" y="424.80" width="1.00" height="7.00" fill="#fff" />
<rect x="462.00" y="424.80" width="1.00" height="7.00" fill="#fff" />
<rect x="563.00" y="422.00" width="3.70" height="16.80" fill="#000" />
<rect x="564.40" y="437.70" width="1.20" height="1.20" fill="#fff" />
<rect x="566.70" y="429.00" width="7.50" height="1.00" fill="#000" />
<rect x="566.70" y="436.00" width="7.50" height="1.00" fill="#000" />
<rect x="555.00" y="423.00" width="1.00" height="6.00" fill="#000" />
<rect x="555.00" y="429.00" width="6.00" height="1.00" fill="#000" />
<rect x="560.00" y="427.00" width="1.00" height="3.00" fill="#000" />
<rect x="560.00" y="427.00" width="3.00" height="1.00" fill="#000" />
<rect x="553.00" y="427.00" width="1.00" height="10.00" fill="#000" />
<rect x="553.00" y="427.00" width="3.00" height="1.00" fill="#000" />
<rect x="553.00" y="436.00" width="10.00" height="1.00" fill="#000" />
<rect x="349.00" y="442.00" width="226.00" height="1.00" fill="#000" />
<rect x="349.00" y="460.00" width="226.00" height="1.00" fill="#000" />
<rect x="349.00" y="442.00" width="1.00" height="19.00" fill="#000" />
<rect x="574.00" y="442.00" width="1.00" height="19.00" fill="#000" />
<rect x="348.00" y="448.00" width="8.20" height="1.00" fill="#000" />
<rect x="348.00" y="448.00" width="1.00" height="8.00" fill="#000" />
<rect x="348.00" y="455.00" width="8.20" height="1.00" fill="#000" />
<rect x="356.20" y="442.00" width="3.60" height="16.80" fill="#000" />
<rect x="366.00" y="443.00" width="1.00" height="6.00" fill="#000" />
<rect x="362.00" y="449.00" width="5.00" height="1.00" fill="#000" />
<rect x="359.80" y="446.00" width="3.00" height="2.00" fill="#000" />
<rect x="362.00" y="446.00" width="1.00" height="4.00" fill="#000" />
<rect x="366.00" y="447.00" width="4.00" height="1.00" fill="#000" />
<rect x="369.00" y="447.00" width="1.00" height="10.00" fill="#000" />
<rect x="359.80" y="456.00" width="10.20" height="1.00" fill="#000" />
<rect x="374.00" y="444.20" width="174.80" height="13.60" fill="#000" />
<rect x="379.00" y="444.80" width="1.00" height="4.20" fill="#fff" />
<rect x="377.00" y="451.00" width="4.00" height="5.90" fill="#fff" />
<rect x="385.00" y="444.80" width="1.00" height="4.20" fill="#fff" />
<rect x="383.00" y="451.00" width="4.00" height="5.90" fill="#fff" />
<rect x="391.00" y="444.80" width="1.00" height="4.20" fill="#fff" />
<rect x="389.00" y="451.00" width="4.00" height="5.90" fill="#fff" />
<rect x="397.00" y="444.80" width="1.00" height="4.20" fill="#fff" />
<rect x="395.00" y="451.00" width="4.00" height="5.90" fill="#fff" />
<rect x="402.00" y="444.80" width="1.00" height="4.20" fill="#fff" />
<rect x="400.00" y="451.00" width="4.00" height="5.90" fill="#fff" />
<rect x="408.00" y="444.80" width="1.00" height="4.20" fill="#fff" />
<rect x="406.00" y="451.00" width="4.00" height="5.90" fill="#fff" />
<rect x="414.00" y="444.80" width="1.00" height="4.20" fill="#fff" />
<rect x="412.00" y="451.00" width="4.00" height="5.90" fill="#fff" />
<rect x="420.00" y="444.80" width="1.00" height="4.20" fill="#fff" />
<rect x="418.00" y="451.00" width="4.00" height="5.90" fill="#fff" />
<rect x="426.00" y="444.80" width="1.00" height="4.20" fill="#fff" />
<rect x="424.00" y="451.00" width="4.00" height="5.90" fill="#fff" />
<rect x="432.00" y="444.80" width="1.00" height="4.20" fill="#fff" />
<rect x="430.00" y="451.00" width="4.00" height="5.90" fill="#fff" />
<rect x="438.00" y="444.80" width="1.00" height="4.20" fill="#fff" />
<rect x="436.00" y="451.00" width="4.00" height="5.90" fill="#fff" />
<rect x="444.00" y="444.80" width="1.00" height="4.20" fill="#fff" />
<rect x="442.00" y="451.00" width="4.00" height="5.90" fill="#fff" />
<rect x="450.00" y="444.80" width="1.00" height="4.20" fill="#fff" />
<rect x="448.00" y="451.00" width="4.00" height="5.90" fill="#fff" />
<rect x="456.00" y="444.80" width="1.00" height="4.20" fill="#fff" />
<rect x="454.00" y="451.00" width="4.00" height="5.90" fill="#fff" />
<rect x="462.00" y="444.80" width="1.00" height="4.20" fill="#fff" />
<rect x="460.00" y="451.00" width="4.00" height="5.90" fill="#fff" />
<rect x="467.00" y="444.80" width="1.00" height="4.20" fill="#fff" />
<rect x="465.00" y="451.00" width="4.00" height="5.90" fill="#fff" />
<rect x="473.00" y="444.80" width="1.00" height="4.20" fill="#fff" />
<rect x="471.00" y="451.00" width="4.00" height="5.90" fill="#fff" />
<rect x="479.00" y="444.80" width="1.00" height="4.20" fill="#fff" />
<rect x="477.00" y="451.00" width="4.00" height="5.90" fill="#fff" />
<rect x="485.00" y="444.80" width="1.00" height="4.20" fill="#fff" />
<rect x="483.00" y="451.00" width="4.00" height="5.90" fill="#fff" />
<rect x="491.00" y="444.80" width="1.00" height="4.20" fill="#fff" />
<rect x="489.00" y="451.00" width="4.00" height="5.90" fill="#fff" />
<rect x="497.00" y="444.80" width="1.00" height="4.20" fill="#fff" />
<rect x="495.00" y="451.00" width="4.00" height="5.90" fill="#fff" />
<rect x="503.00" y="444.80" width="1.00" height="4.20" fill="#fff" />
<rect x="501.00" y="451.00" width="4.00" height="5.90" fill="#fff" />
<rect x="509.00" y="444.80" width="1.00" height="4.20" fill="#fff" />
<rect x="507.00" y="451.00" width="4.00" height="5.90" fill="#fff" />
<rect x="515.00" y="444.80" width="1.00" height="4.20" fill="#fff" />
<rect x="513.00" y="451.00" width="4.00" height="5.90" fill="#fff" />
<rect x="520.00" y="444.80" width="1.00" height="4.20" fill="#fff" />
<rect x="518.00" y="451.00" width="4.00" height="5.90" fill="#fff" />
<rect x="526.00" y="444.80" width="1.00" height="4.20" fill="#fff" />
<rect x="524.00" y="451.00" width="4.00" height="5.90" fill="#fff" />
<rect x="532.00" y="444.80" width="1.00" height="4.20" fill="#fff" />
<rect x="530.00" y="451.00" width="4.00" height="5.90" fill="#fff" />
<rect x="538.00" y="444.80" width="1.00" height="4.20" fill="#fff" />
<rect x="536.00" y="451.00" width="4.00" height="5.90" fill="#fff" />
<rect x="544.00" y="444.80" width="1.00" height="4.20" fill="#fff" />
<rect x="542.00" y="451.00" width="4.00" height="5.90" fill="#fff" />
<rect x="408.00" y="444.80" width="1.00" height="7.00" fill="#fff" />
<rect x="414.00" y="444.80" width="1.00" height="7.00" fill="#fff" />
<rect x="462.00" y="444.80" width="1.00" height="7.00" fill="#fff" />
<rect x="563.00" y="442.00" width="3.70" height="16.80" fill="#000" />
<rect x="564.40" y="457.70" width="1.20" height="1.20" fill="#fff" />
<rect x="566.70" y="449.00" width="7.50" height="1.00" fill="#000" />
<rect x="566.70" y="456.00" width="7.50" height="1.00" fill="#000" />
<rect x="555.00" y="443.00" width="1.00" height="6.00" fill="#000" />
<rect x="555.00" y="449.00" width="6.00" height="1.00" fill="#000" />
<rect x="560.00" y="447.00" width="1.00" height="3.00" fill="#000" />
<rect x="560.00" y="447.00" width="3.00" height="1.00" fill="#000" />
<rect x="553.00" y="447.00" width="1.00" height="10.00" fill="#000" />
<rect x="553.00" y="447.00" width="3.00" height="1.00" fill="#000" />
<rect x="553.00" y="456.00" width="10.00" height="1.00" fill="#000" />
<rect x="349.00" y="462.00" width="226.00" height="1.00" fill="#000" />
<rect x="349.00" y="480.00" width="226.00" height="1.00" fill="#000" />
<rect x="349.00" y="462.00" width="1.00" height="19.00" fill="#000" />
<rect x="574.00" y="462.00" width="1.00" height="19.00" fill="#000" />
<rect x="348.00" y="468.00" width="8.20" height="1.00" fill="#000" />
<rect x="348.00" y="468.00" width="1.00" height="8.00" fill="#000" />
<rect x="348.00" y="475.00" width="8.20" height="1.00" fill="#000" />
<rect x="356.20" y="462.00" width="3.60" height="16.80" fill="#000" />
<rect x="366.00" y="463.00" width="1.00" height="6.00" fill="#000" />
<rect x="362.00" y="469.00" width="5.00" height="1.00" fill="#000" />
<rect x="359.80" y="466.00" width="3.00" height="2.00" fill="#000" />
<rect x="362.00" y="466.00" width="1.00" height="4.00" fill="#000" />
<rect x="366.00" y="467.00" width="4.00" height="1.00" fill="#000" />
<rect x="369.00" y="467.00" width="1.00" height="10.00" fill="#000" />
<rect x="359.80" y="476.00" width="10.20" height="1.00" fill="#000" />
<rect x="374.00" y="464.20" width="174.80" height="13.60" fill="#000" />
<rect x="379.00" y="464.80" width="1.00" height="4.20" fill="#fff" />
<rect x="377.00" y="471.00" width="4.00" height="5.90" fill="#fff" />
<rect x="385.00" y="464.80" width="1.00" height="4.20" fill="#fff" />
<rect x="383.00" y="471.00" width="4.00" height="5.90" fill="#fff" />
<rect x="391.00" y="464.80" width="1.00" height="4.20" fill="#fff" />
<rect x="389.00" y="471.00" width="4.00" height="5.90" fill="#fff" />
<rect x="397.00" y="464.80" width="1.00" height="4.20" fill="#fff" />
<rect x="395.00" y="471.00" width="4.00" height="5.90" fill="#fff" />
<rect x="402.00" y="464.80" width="1.00" height="4.20" fill="#fff" />
<rect x="400.00" y="471.00" width="4.00" height="5.90" fill="#fff" />
<rect x="408.00" y="464.80" width="1.00" height="4.20" fill="#fff" />
<rect x="406.00" y="471.00" width="4.00" height="5.90" fill="#fff" />
<rect x="414.00" y="464.80" width="1.00" height="4.20" fill="#fff" />
<rect x="412.00" y="471.00" width="4.00" height="5.90" fill="#fff" />
<rect x="420.00" y="464.80" width="1.00" height="4.20" fill="#fff" />
<rect x="418.00" y="471.00" width="4.00" height="5.90" fill="#fff" />
<rect x="426.00" y="464.80" width="1.00" height="4.20" fill="#fff" />
<rect x="424.00" y="471.00" width="4.00" height="5.90" fill="#fff" />
<rect x="432.00" y="464.80" width="1.00" height="4.20" fill="#fff" />
<rect x="430.00" y="471.00" width="4.00" height="5.90" fill="#fff" />
<rect x="438.00" y="464.80" width="1.00" height="4.20" fill="#fff" />
<rect x="436.00" y="471.00" width="4.00" height="5.90" fill="#fff" />
<rect x="444.00" y="464.80" width="1.00" height="4.20" fill="#fff" />
<rect x="442.00" y="471.00" width="4.00" height="5.90" fill="#fff" />
<rect x="450.00" y="464.80" width="1.00" height="4.20" fill="#fff" />
<rect x="448.00" y="471.00" width="4.00" height="5.90" fill="#fff" />
<rect x="456.00" y="464.80" width="1.00" height="4.20" fill="#fff" />
<rect x="454.00" y="471.00" width="4.00" height="5.90" fill="#fff" />
<rect x="462.00" y="464.80" width="1.00" height="4.20" fill="#fff" />
<rect x="460.00" y="471.00" width="4.00" height="5.90" fill="#fff" />
<rect x="467.00" y="464.80" width="1.00" height="4.20" fill="#fff" />
<rect x="465.00" y="471.00" width="4.00" height="5.90" fill="#fff" />
<rect x="473.00" y="464.80" width="1.00" height="4.20" fill="#fff" />
<rect x="471.00" y="471.00" width="4.00" height="5.90" fill="#fff" />
<rect x="479.00" y="464.80" width="1.00" height="4.20" fill="#fff" />
<rect x="477.00" y="471.00" width="4.00" height="5.90" fill="#fff" />
<rect x="485.00" y="464.80" width="1.00" height="4.20" fill="#fff" />
<rect x="483.00" y="471.00" width="4.00" height="5.90" fill="#fff" />
<rect x="491.00" y="464.80" width="1.00" height="4.20" fill="#fff" />
<rect x="489.00" y="471.00" width="4.00" height="5.90" fill="#fff" />
<rect x="497.00" y="464.80" width="1.00" height="4.20" fill="#fff" />
<rect x="495.00" y="471.00" width="4.00" height="5.90" fill="#fff" />
<rect x="503.00" y="464.80" width="1.00" height="4.20" fill="#fff" />
<rect x="501.00" y="471.00" width="4.00" height="5.90" fill="#fff" />
<rect x="509.00" y="464.80" width="1.00" height="4.20" fill="#fff" />
<rect x="507.00" y="471.00" width="4.00" height="5.90" fill="#fff" />
<rect x="515.00" y="464.80" width="1.00" height="4.20" fill="#fff" />
<rect x="513.00" y="471.00" width="4.00" height="5.90" fill="#fff" />
<rect x="520.00" y="464.80" width="1.00" height="4.20" fill="#fff" />
<rect x="518.00" y="471.00" width="4.00" height="5.90" fill="#fff" />
<rect x="526.00" y="464.80" width="1.00" height="4.20" fill="#fff" />
<rect x="524.00" y="471.00" width="4.00" height="5.90" fill="#fff" />
<rect x="532.00" y="464.80" width="1.00" height="4.20" fill="#fff" />
<rect x="530.00" y="471.00" width="4.00" height="5.90" fill="#fff" />
<rect x="538.00" y="464.80" width="1.00" height="4.20" fill="#fff" />
<rect x="536.00" y="471.00" width="4.00" height="5.90" fill="#fff" />
<rect x="544.00" y="464.80" width="1.00" height="4.20" fill="#fff" />
<rect x="542.00" y="471.00" width="4.00" height="5.90" fill="#fff" />
<rect x="408.00" y="464.80" width="1.00" height="7.00" fill="#fff" />
<rect x="414.00" y="464.80" width="1.00" height="7.00" fill="#fff" />
<rect x="462.00" y="464.80" width="1.00" height="7.00" fill="#fff" />
<rect x="563.00" y="462.00" width="3.70" height="16.80" fill="#000" />
<rect x="564.40" y="477.70" width="1.20" height="1.20" fill="#fff" />
<rect x="566.70" y="469.00" width="7.50" height="1.00" fill="#000" />
<rect x="566.70" y="476.00" width="7.50" height="1.00" fill="#000" />
<rect x="555.00" y="463.00" width="1.00" height="6.00" fill="#000" />
<rect x="555.00" y="469.00" width="6.00" height="1.00" fill="#000" />
<rect x="560.00" y="467.00" width="1.00" height="3.00" fill="#000" />
<rect x="560.00" y="467.00" width="3.00" height="1.00" fill="#000" />
<rect x="553.00" y="467.00" width="1.00" height="10.00" fill="#000" />
<rect x="553.00" y="467.00" width="3.00" height="1.00" fill="#000" />
<rect x="553.00" y="476.00" width="10.00" height="1.00" fill="#000" />
<rect x="349.00" y="482.00" width="226.00" height="1.00" fill="#000" />
<rect x="349.00" y="500.00" width="226.00" height="1.00" fill="#000" />
<rect x="349.00" y="482.00" width="1.00" height="19.00" fill="#000" />
<rect x="574.00" y="482.00" width="1.00" height="19.00" fill="#000" />
<rect x="348.00" y="488.00" width="8.20" height="1.00" fill="#000" />
<rect x="348.00" y="488.00" width="1.00" height="8.00" fill="#000" />
<rect x="348.00" y="495.00" width="8.20" height="1.00" fill="#000" />
<rect x="356.20" y="482.00" width="3.60" height="16.80" fill="#000" />
<rect x="366.00" y="483.00" width="1.00" height="6.00" fill="#000" />
<rect x="362.00" y="489.00" width="5.00" height="1.00" fill="#000" />
<rect x="359.80" y="486.00" width="3.00" height="2.00" fill="#000" />
<rect x="362.00" y="486.00" width="1.00" height="4.00" fill="#000" />
<rect x="366.00" y="487.00" width="4.00" height="1.00" fill="#000" />
<rect x="369.00" y="487.00" width="1.00" height="10.00" fill="#000" />
<rect x="359.80" y="496.00" width="10.20" height="1.00" fill="#000" />
<rect x="374.00" y="484.20" width="174.80" height="13.60" fill="#000" />
<rect x="379.00" y="484.80" width="1.00" height="4.20" fill="#fff" />
<rect x="377.00" y="491.00" width="4.00" height="5.90" fill="#fff" />
<rect x="385.00" y="484.80" width="1.00" height="4.20" fill="#fff" />
<rect x="383.00" y="491.00" width="4.00" height="5.90" fill="#fff" />
<rect x="391.00" y="484.80" width="1.00" height="4.20" fill="#fff" />
<rect x="389.00" y="491.00" width="4.00" height="5.90" fill="#fff" />
<rect x="397.00" y="484.80" width="1.00" height="4.20" fill="#fff" />
<rect x="395.00" y="491.00" width="4.00" height="5.90" fill="#fff" />
<rect x="402.00" y="484.80" width="1.00" height="4.20" fill="#fff" />
<rect x="400.00" y="491.00" width="4.00" height="5.90" fill="#fff" />
<rect x="408.00" y="484.80" width="1.00" height="4.20" fill="#fff" />
<rect x="406.00" y="491.00" width="4.00" height="5.90" fill="#fff" />
<rect x="414.00" y="484.80" width="1.00" height="4.20" fill="#fff" />
<rect x="412.00" y="491.00" width="4.00" height="5.90" fill="#fff" />
<rect x="420.00" y="484.80" width="1.00" height="4.20" fill="#fff" />
<rect x="418.00" y="491.00" width="4.00" height="5.90" fill="#fff" />
<rect x="426.00" y="484.80" width="1.00" height="4.20" fill="#fff" />
<rect x="424.00" y="491.00" width="4.00" height="5.90" fill="#fff" />
<rect x="432.00" y="484.80" width="1.00" height="4.20" fill="#fff" />
<rect x="430.00" y="491.00" width="4.00" height="5.90" fill="#fff" />
<rect x="438.00" y="484.80" width="1.00" height="4.20" fill="#fff" />
<rect x="436.00" y="491.00" width="4.00" height="5.90" fill="#fff" />
<rect x="444.00" y="484.80" width="1.00" height="4.20" fill="#fff" />
<rect x="442.00" y="491.00" width="4.00" height="5.90" fill="#fff" />
<rect x="450.00" y="484.80" width="1.00" height="4.20" fill="#fff" />
<rect x="448.00" y="491.00" width="4.00" height="5.90" fill="#fff" />
<rect x="456.00" y="484.80" width="1.00" height="4.20" fill="#fff" />
<rect x="454.00" y="491.00" width="4.00" height="5.90" fill="#fff" />
<rect x="462.00" y="484.80" width="1.00" height="4.20" fill="#fff" />
<rect x="460.00" y="491.00" width="4.00" height="5.90" fill="#fff" />
<rect x="467.00" y="484.80" width="1.00" height="4.20" fill="#fff" />
<rect x="465.00" y="491.00" width="4.00" height="5.90" fill="#fff" />
<rect x="473.00" y="484.80" width="1.00" height="4.20" fill="#fff" />
<rect x="471.00" y="491.00" width="4.00" height="5.90" fill="#fff" />
<rect x="479.00" y="484.80" width="1.00" height="4.20" fill="#fff" />
<rect x="477.00" y="491.00" width="4.00" height="5.90" fill="#fff" />
<rect x="485.00" y="484.80" width="1.00" height="4.20" fill="#fff" />
<rect x="483.00" y="491.00" width="4.00" height="5.90" fill="#fff" />
<rect x="491.00" y="484.80" width="1.00" height="4.20" fill="#fff" />
<rect x="489.00" y="491.00" width="4.00" height="5.90" fill="#fff" />
<rect x="497.00" y="484.80" width="1.00" height="4.20" fill="#fff" />
<rect x="495.00" y="491.00" width="4.00" height="5.90" fill="#fff" />
<rect x="503.00" y="484.80" width="1.00" height="4.20" fill="#fff" />
<rect x="501.00" y="491.00" width="4.00" height="5.90" fill="#fff" />
<rect x="509.00" y="484.80" width="1.00" height="4.20" fill="#fff" />
<rect x="507.00" y="491.00" width="4.00" height="5.90" fill="#fff" />
<rect x="515.00" y="484.80" width="1.00" height="4.20" fill="#fff" />
<rect x="513.00" y="491.00" width="4.00" height="5.90" fill="#fff" />
<rect x="520.00" y="484.80" width="1.00" height="4.20" fill="#fff" />
<rect x="518.00" y="491.00" width="4.00" height="5.90" fill="#fff" />
<rect x="526.00" y="484.80" width="1.00" height="4.20" fill="#fff" />
<rect x="524.00" y="491.00" width="4.00" height="5.90" fill="#fff" />
<rect x="532.00" y="484.80" width="1.00" height="4.20" fill="#fff" />
<rect x="530.00" y="491.00" width="4.00" height="5.90" fill="#fff" />
<rect x="538.00" y="484.80" width="1.00" height="4.20" fill="#fff" />
<rect x="536.00" y="491.00" width="4.00" height="5.90" fill="#fff" />
<rect x="544.00" y="484.80" width="1.00" height="4.20" fill="#fff" />
<rect x="542.00" y="491.00" width="4.00" height="5.90" fill="#fff" />
<rect x="408.00" y="484.80" width="1.00" height="7.00" fill="#fff" />
<rect x="414.00" y="484.80" width="1.00" height="7.00" fill="#fff" />
<rect x="462.00" y="484.80" width="1.00" height="7.00" fill="#fff" />
<rect x="563.00" y="482.00" width="3.70" height="16.80" fill="#000" />
<rect x="564.40" y="497.70" width="1.20" height="1.20" fill="#fff" />
<rect x="566.70" y="489.00" width="7.50" height="1.00" fill="#000" />
<rect x="566.70" y="496.00" width="7.50" height="1.00" fill="#000" />
<rect x="555.00" y="483.00" width="1.00" height="6.00" fill="#000" />
<rect x="555.00" y="489.00" width="6.00" height="1.00" fill="#000" />
<rect x="560.00" y="487.00" width="1.00" height="3.00" fill="#000" />
<rect x="560.00" y="487.00" width="3.00" height="1.00" fill="#000" />
<rect x="553.00" y="487.00" width="1.00" height="10.00" fill="#000" />
<rect x="553.00" y="487.00" width="3.00" height="1.00" fill="#000" />
<rect x="553.00" y="496.00" width="10.00" height="1.00" fill="#000" />
<rect x="349.00" y="503.00" width="226.00" height="1.00" fill="#000" />
<rect x="349.00" y="521.00" width="226.00" height="1.00" fill="#000" />
<rect x="349.00" y="503.00" width="1.00" height="19.00" fill="#000" />
<rect x="574.00" y="503.00" width="1.00" height="19.00" fill="#000" />
<rect x="348.00" y="509.00" width="8.20" height="1.00" fill="#000" />
<rect x="348.00" y="509.00" width="1.00" height="8.00" fill="#000" />
<rect x="348.00" y="516.00" width="8.20" height="1.00" fill="#000" />
<rect x="356.20" y="503.00" width="3.60" height="16.80" fill="#000" />
<rect x="366.00" y="504.00" width="1.00" height="6.00" fill="#000" />
<rect x="362.00" y="510.00" width="5.00" height="1.00" fill="#000" />
<rect x="359.80" y="507.00" width="3.00" height="2.00" fill="#000" />
<rect x="362.00" y="507.00" width="1.00" height="4.00" fill="#000" />
<rect x="366.00" y="508.00" width="4.00" height="1.00" fill="#000" />
<rect x="369.00" y="508.00" width="1.00" height="10.00" fill="#000" />
<rect x="359.80" y="517.00" width="10.20" height="1.00" fill="#000" />
<rect x="374.00" y="505.20" width="174.80" height="13.60" fill="#000" />
<rect x="379.00" y="505.80" width="1.00" height="4.20" fill="#fff" />
<rect x="377.00" y="512.00" width="4.00" height="5.90" fill="#fff" />
<rect x="385.00" y="505.80" width="1.00" height="4.20" fill="#fff" />
<rect x="383.00" y="512.00" width="4.00" height="5.90" fill="#fff" />
<rect x="391.00" y="505.80" width="1.00" height="4.20" fill="#fff" />
<rect x="389.00" y="512.00" width="4.00" height="5.90" fill="#fff" />
<rect x="397.00" y="505.80" width="1.00" height="4.20" fill="#fff" />
<rect x="395.00" y="512.00" width="4.00" height="5.90" fill="#fff" />
<rect x="402.00" y="505.80" width="1.00" height="4.20" fill="#fff" />
<rect x="400.00" y="512.00" width="4.00" height="5.90" fill="#fff" />
<rect x="408.00" y="505.80" width="1.00" height="4.20" fill="#fff" />
<rect x="406.00" y="512.00" width="4.00" height="5.90" fill="#fff" />
<rect x="414.00" y="505.80" width="1.00" height="4.20" fill="#fff" />
<rect x="412.00" y="512.00" width="4.00" height="5.90" fill="#fff" />
<rect x="420.00" y="505.80" width="1.00" height="4.20" fill="#fff" />
<rect x="418.00" y="512.00" width="4.00" height="5.90" fill="#fff" />
<rect x="426.00" y="505.80" width="1.00" height="4.20" fill="#fff" />
<rect x="424.00" y="512.00" width="4.00" height="5.90" fill="#fff" />
<rect x="432.00" y="505.80" width="1.00" height="4.20" fill="#fff" />
<rect x="430.00" y="512.00" width="4.00" height="5.90" fill="#fff" />
<rect x="438.00" y="505.80" width="1.00" height="4.20" fill="#fff" />
<rect x="436.00" y="512.00" width="4.00" height="5.90" fill="#fff" />
<rect x="444.00" y="505.80" width="1.00" height="4.20" fill="#fff" />
<rect x="442.00" y="512.00" width="4.00" height="5.90" fill="#fff" />
<rect x="450.00" y="505.80" width="1.00" height="4.20" fill="#fff" />
<rect x="448.00" y="512.00" width="4.00" height="5.90" fill="#fff" />
<rect x="456.00" y="505.80" width="1.00" height="4.20" fill="#fff" />
<rect x="454.00" y="512.00" width="4.00" height="5.90" fill="#fff" />
<rect x="462.00" y="505.80" width="1.00" height="4.20" fill="#fff" />
<rect x="460.00" y="512.00" width="4.00" height="5.90" fill="#fff" />
<rect x="467.00" y="505.80" width="1.00" height="4.20" fill="#fff" />
<rect x="465.00" y="512.00" width="4.00" height="5.90" fill="#fff" />
<rect x="473.00" y="505.80" width="1.00" height="4.20" fill="#fff" />
<rect x="471.00" y="512.00" width="4.00" height="5.90" fill="#fff" />
<rect x="479.00" y="505.80" width="1.00" height="4.20" fill="#fff" />
<rect x="477.00" y="512.00" width="4.00" height="5.90" fill="#fff" />
<rect x="485.00" y="505.80" width="1.00" height="4.20" fill="#fff" />
<rect x="483.00" y="512.00" width="4.00" height="5.90" fill="#fff" />
<rect x="491.00" y="505.80" width="1.00" height="4.20" fill="#fff" />
<rect x="489.00" y="512.00" width="4.00" height="5.90" fill="#fff" />
<rect x="497.00" y="505.80" width="1.00" height="4.20" fill="#fff" />
<rect x="495.00" y="512.00" width="4.00" height="5.90" fill="#fff" />
<rect x="503.00" y="505.80" width="1.00" height="4.20" fill="#fff" />
<rect x="501.00" y="512.00" width="4.00" height="5.90" fill="#fff" />
<rect x="509.00" y="505.80" width="1.00" height="4.20" fill="#fff" />
<rect x="507.00" y="512.00" width="4.00" height="5.90" fill="#fff" />
<rect x="515.00" y="505.80" width="1.00" height="4.20" fill="#fff" />
<rect x="513.00" y="512.00" width="4.00" height="5.90" fill="#fff" />
<rect x="520.00" y="505.80" width="1.00" height="4.20" fill="#fff" />
<rect x="518.00" y="512.00" width="4.00" height="5.90" fill="#fff" />
<rect x="526.00" y="505.80" width="1.00" height="4.20" fill="#fff" />
<rect x="524.00" y="512.00" width="4.00" height="5.90" fill="#fff" />
<rect x="532.00" y="505.80" width="1.00" height="4.20" fill="#fff" />
<rect x="530.00" y="512.00" width="4.00" height="5.90" fill="#fff" />
<rect x="538.00" y="505.80" width="1.00" height="4.20" fill="#fff" />
<rect x="536.00" y="512.00" width="4.00" height="5.90" fill="#fff" />
<rect x="544.00" y="505.80" width="1.00" height="4.20" fill="#fff" />
<rect x="542.00" y="512.00" width="4.00" height="5.90" fill="#fff" />
<rect x="408.00" y="505.80" width="1.00" height="7.00" fill="#fff" />
<rect x="414.00" y="505.80" width="1.00" height="7.00" fill="#fff" />
<rect x="462.00" y="505.80" width="1.00" height="7.00" fill="#fff" />
<rect x="563.00" y="503.00" width="3.70" height="16.80" fill="#000" />
<rect x="564.40" y="518.70" width="1.20" height="1.20" fill="#fff" />
<rect x="566.70" y="510.00" width="7.50" height="1.00" fill="#000" />
<rect x="566.70" y="517.00" width="7.50" height="1.00" fill="#000" />
<rect x="555.00" y="504.00" width="1.00" height="6.00" fill="#000" />
<rect x="555.00" y="510.00" width="6.00" height="1.00" fill="#000" />
<rect x="560.00" y="508.00" width="1.00" height="3.00" fill="#000" />
<rect x="560.00" y="508.00" width="3.00" height="1.00" fill="#000" />
<rect x="553.00" y="508.00" width="1.00" height="10.00" fill="#000" />
<rect x="553.00" y="508.00" width="3.00" height="1.00" fill="#000" />
<rect x="553.00" y="517.00" width="10.00" height="1.00" fill="#000" />
<rect x="349.00" y="523.00" width="226.00" height="1.00" fill="#000" />
<rect x="349.00" y="541.00" width="226.00" height="1.00" fill="#000" />
<rect x="349.00" y="523.00" width="1.00" height="19.00" fill="#000" />
<rect x="574.00" y="523.00" width="1.00" height="19.00" fill="#000" />
<rect x="348.00" y="529.00" width="8.20" height="1.00" fill="#000" />
<rect x="348.00" y="529.00" width="1.00" height="8.00" fill="#000" />
<rect x="348.00" y="536.00" width="8.20" height="1.00" fill="#000" />
<rect x="356.20" y="523.00" width="3.60" height="16.80" fill="#000" />
<rect x="366.00" y="524.00" width="1.00" height="6.00" fill="#000" />
<rect x="362.00" y="530.00" width="5.00" height="1.00" fill="#000" />
<rect x="359.80" y="527.00" width="3.00" height="2.00" fill="#000" />
<rect x="362.00" y="527.00" width="1.00" height="4.00" fill="#000" />
<rect x="366.00" y="528.00" width="4.00" height="1.00" fill="#000" />
<rect x="369.00" y="528.00" width="1.00" height="10.00" fill="#000" />
<rect x="359.80" y="537.00" width="10.20" height="1.00" fill="#000" />
<rect x="374.00" y="525.20" width="174.80" height="13.60" fill="#000" />
<rect x="379.00" y="525.80" width="1.00" height="4.20" fill="#fff" />
<rect x="377.00" y="532.00" width="4.00" height="5.90" fill="#fff" />
<rect x="385.00" y="525.80" width="1.00" height="4.20" fill="#fff" />
<rect x="383.00" y="532.00" width="4.00" height="5.90" fill="#fff" />
<rect x="391.00" y="525.80" width="1.00" height="4.20" fill="#fff" />
<rect x="389.00" y="532.00" width="4.00" height="5.90" fill="#fff" />
<rect x="397.00" y="525.80" width="1.00" height="4.20" fill="#fff" />
<rect x="395.00" y="532.00" width="4.00" height="5.90" fill="#fff" />
<rect x="402.00" y="525.80" width="1.00" height="4.20" fill="#fff" />
<rect x="400.00" y="532.00" width="4.00" height="5.90" fill="#fff" />
<rect x="408.00" y="525.80" width="1.00" height="4.20" fill="#fff" />
<rect x="406.00" y="532.00" width="4.00" height="5.90" fill="#fff" />
<rect x="414.00" y="525.80" width="1.00" height="4.20" fill="#fff" />
<rect x="412.00" y="532.00" width="4.00" height="5.90" fill="#fff" />
<rect x="420.00" y="525.80" width="1.00" height="4.20" fill="#fff" />
<rect x="418.00" y="532.00" width="4.00" height="5.90" fill="#fff" />
<rect x="426.00" y="525.80" width="1.00" height="4.20" fill="#fff" />
<rect x="424.00" y="532.00" width="4.00" height="5.90" fill="#fff" />
<rect x="432.00" y="525.80" width="1.00" height="4.20" fill="#fff" />
<rect x="430.00" y="532.00" width="4.00" height="5.90" fill="#fff" />
<rect x="438.00" y="525.80" width="1.00" height="4.20" fill="#fff" />
<rect x="436.00" y="532.00" width="4.00" height="5.90" fill="#fff" />
<rect x="444.00" y="525.80" width="1.00" height="4.20" fill="#fff" />
<rect x="442.00" y="532.00" width="4.00" height="5.90" fill="#fff" />
<rect x="450.00" y="525.80" width="1.00" height="4.20" fill="#fff" />
<rect x="448.00" y="532.00" width="4.00" height="5.90" fill="#fff" />
<rect x="456.00" y="525.80" width="1.00" height="4.20" fill="#fff" />
<rect x="454.00" y="532.00" width="4.00" height="5.90" fill="#fff" />
<rect x="462.00" y="525.80" width="1.00" height="4.20" fill="#fff" />
<rect x="460.00" y="532.00" width="4.00" height="5.90" fill="#fff" />
<rect x="467.00" y="525.80" width="1.00" height="4.20" fill="#fff" />
<rect x="465.00" y="532.00" width="4.00" height="5.90" fill="#fff" />
<rect x="473.00" y="525.80" width="1.00" height="4.20" fill="#fff" />
<rect x="471.00" y="532.00" width="4.00" height="5.90" fill="#fff" />
<rect x="479.00" y="525.80" width="1.00" height="4.20" fill="#fff" />
<rect x="477.00" y="532.00" width="4.00" height="5.90" fill="#fff" />
<rect x="485.00" y="525.80" width="1.00" height="4.20" fill="#fff" />
<rect x="483.00" y="532.00" width="4.00" height="5.90" fill="#fff" />
<rect x="491.00" y="525.80" width="1.00" height="4.20" fill="#fff" />
<rect x="489.00" y="532.00" width="4.00" height="5.90" fill="#fff" />
<rect x="497.00" y="525.80" width="1.00" height="4.20" fill="#fff" />
<rect x="495.00" y="532.00" width="4.00" height="5.90" fill="#fff" />
<rect x="503.00" y="525.80" width="1.00" height="4.20" fill="#fff" />
<rect x="501.00" y="532.00" width="4.00" height="5.90" fill="#fff" />
<rect x="509.00" y="525.80" width="1.00" height="4.20" fill="#fff" />
<rect x="507.00" y="532.00" width="4.00" height="5.90" fill="#fff" />
<rect x="515.00" y="525.80" width="1.00" height="4.20" fill="#fff" />
<rect x="513.00" y="532.00" width="4.00" height="5.90" fill="#fff" />
<rect x="520.00" y="525.80" width="1.00" height="4.20" fill="#fff" />
<rect x="518.00" y="532.00" width="4.00" height="5.90" fill="#fff" />
<rect x="526.00" y="525.80" width="1.00" height="4.20" fill="#fff" />
<rect x="524.00" y="532.00" width="4.00" height="5.90" fill="#fff" />
<rect x="532.00" y="525.80" width="1.00" height="4.20" fill="#fff" />
<rect x="530.00" y="532.00" width="4.00" height="5.90" fill="#fff" />
<rect x="538.00" y="525.80" width="1.00" height="4.20" fill="#fff" />
<rect x="536.00" y="532.00" width="4.00" height="5.90" fill="#fff" />
<rect x="544.00" y="525.80" width="1.00" height="4.20" fill="#fff" />
<rect x="542.00" y="532.00" width="4.00" height="5.90" fill="#fff" />
<rect x="408.00" y="525.80" width="1.00" height="7.00" fill="#fff" />
<rect x="414.00" y="525.80" width="1.00" height="7.00" fill="#fff" />
<rect x="462.00" y="525.80" width="1.00" height="7.00" fill="#fff" />
<rect x="563.00" y="523.00" width="3.70" height="16.80" fill="#000" />
<rect x="564.40" y="538.70" width="1.20" height="1.20" fill="#fff" />
<rect x="566.70" y="530.00" width="7.50" height="1.00" fill="#000" />
<rect x="566.70" y="537.00" width="7.50" height="1.00" fill="#000" />
<rect x="555.00" y="524.00" width="1.00" height="6.00" fill="#000" />
<rect x="555.00" y="530.00" width="6.00" height="1.00" fill="#000" />
<rect x="560.00" y="528.00" width="1.00" height="3.00" fill="#000" />
<rect x="560.00" y="528.00" width="3.00" height="1.00" fill="#000" />
<rect x="553.00" y="528.00" width="1.00" height="10.00" fill="#000" />
<rect x="553.00" y="528.00" width="3.00" height="1.00" fill="#000" />
<rect x="553.00" y="537.00" width="10.00" height="1.00" fill="#000" />
<rect x="349.00" y="542.00" width="226.00" height="1.00" fill="#000" />
<rect x="349.00" y="560.00" width="226.00" height="1.00" fill="#000" />
<rect x="349.00" y="542.00" width="1.00" height="19.00" fill="#000" />
<rect x="574.00" y="542.00" width="1.00" height="19.00" fill="#000" />
<rect x="348.00" y="548.00" width="8.20" height="1.00" fill="#000" />
<rect x="348.00" y="548.00" width="1.00" height="8.00" fill="#000" />
<rect x="348.00" y="555.00" width="8.20" height="1.00" fill="#000" />
<rect x="356.20" y="542.00" width="3.60" height="16.80" fill="#000" />
<rect x="366.00" y="543.00" width="1.00" height="6.00" fill="#000" />
<rect x="362.00" y="549.00" width="5.00" height="1.00" fill="#000" />
<rect x="359.80" y="546.00" width="3.00" height="2.00" fill="#000" />
<rect x="362.00" y="546.00" width="1.00" height="4.00" fill="#000" />
<rect x="366.00" y="547.00" width="4.00" height="1.00" fill="#000" />
<rect x="369.00" y="547.00" width="1.00" height="10.00" fill="#000" />
<rect x="359.80" y="556.00" width="10.20" height="1.00" fill="#000" />
<rect x="374.00" y="544.20" width="174.80" height="13.60" fill="#000" />
<rect x="379.00" y="544.80" width="1.00" height="4.20" fill="#fff" />
<rect x="377.00" y="551.00" width="4.00" height="5.90" fill="#fff" />
<rect x="385.00" y="544.80" width="1.00" height="4.20" fill="#fff" />
<rect x="383.00" y="551.00" width="4.00" height="5.90" fill="#fff" />
<rect x="391.00" y="544.80" width="1.00" height="4.20" fill="#fff" />
<rect x="389.00" y="551.00" width="4.00" height="5.90" fill="#fff" />
<rect x="397.00" y="544.80" width="1.00" height="4.20" fill="#fff" />
<rect x="395.00" y="551.00" width="4.00" height="5.90" fill="#fff" />
<rect x="402.00" y="544.80" width="1.00" height="4.20" fill="#fff" />
<rect x="400.00" y="551.00" width="4.00" height="5.90" fill="#fff" />
<rect x="408.00" y="544.80" width="1.00" height="4.20" fill="#fff" />
<rect x="406.00" y="551.00" width="4.00" height="5.90" fill="#fff" />
<rect x="414.00" y="544.80" width="1.00" height="4.20" fill="#fff" />
<rect x="412.00" y="551.00" width="4.00" height="5.90" fill="#fff" />
<rect x="420.00" y="544.80" width="1.00" height="4.20" fill="#fff" />
<rect x="418.00" y="551.00" width="4.00" height="5.90" fill="#fff" />
<rect x="426.00" y="544.80" width="1.00" height="4.20" fill="#fff" />
<rect x="424.00" y="551.00" width="4.00" height="5.90" fill="#fff" />
<rect x="432.00" y="544.80" width="1.00" height="4.20" fill="#fff" />
<rect x="430.00" y="551.00" width="4.00" height="5.90" fill="#fff" />
<rect x="438.00" y="544.80" width="1.00" height="4.20" fill="#fff" />
<rect x="436.00" y="551.00" width="4.00" height="5.90" fill="#fff" />
<rect x="444.00" y="544.80" width="1.00" height="4.20" fill="#fff" />
<rect x="442.00" y="551.00" width="4.00" height="5.90" fill="#fff" />
<rect x="450.00" y="544.80" width="1.00" height="4.20" fill="#fff" />
<rect x="448.00" y="551.00" width="4.00" height="5.90" fill="#fff" />
<rect x="456.00" y="544.80" width="1.00" height="4.20" fill="#fff" />
<rect x="454.00" y="551.00" width="4.00" height="5.90" fill="#fff" />
<rect x="462.00" y="544.80" width="1.00" height="4.20" fill="#fff" />
<rect x="460.00" y="551.00" width="4.00" height="5.90" fill="#fff" />
<rect x="467.00" y="544.80" width="1.00" height="4.20" fill="#fff" />
<rect x="465.00" y="551.00" width="4.00" height="5.90" fill="#fff" />
<rect x="473.00" y="544.80" width="1.00" height="4.20" fill="#fff" />
<rect x="471.00" y="551.00" width="4.00" height="5.90" fill="#fff" />
<rect x="479.00" y="544.80" width="1.00" height="4.20" fill="#fff" />
<rect x="477.00" y="551.00" width="4.00" height="5.90" fill="#fff" />
<rect x="485.00" y="544.80" width="1.00" height="4.20" fill="#fff" />
<rect x="483.00" y="551.00" width="4.00" height="5.90" fill="#fff" />
<rect x="491.00" y="544.80" width="1.00" height="4.20" fill="#fff" />
<rect x="489.00" y="551.00" width="4.00" height="5.90" fill="#fff" />
<rect x="497.00" y="544.80" width="1.00" height="4.20" fill="#fff" />
<rect x="495.00" y="551.00" width="4.00" height="5.90" fill="#fff" />
<rect x="503.00" y="544.80" width="1.00" height="4.20" fill="#fff" />
<rect x="501.00" y="551.00" width="4.00" height="5.90" fill="#fff" />
<rect x="509.00" y="544.80" width="1.00" height="4.20" fill="#fff" />
<rect x="507.00" y="551.00" width="4.00" height="5.90" fill="#fff" />
<rect x="515.00" y="544.80" width="1.00" height="4.20" fill="#fff" />
<rect x="513.00" y="551.00" width="4.00" height="5.90" fill="#fff" />
<rect x="520.00" y="544.80" width="1.00" height="4.20" fill="#fff" />
<rect x="518.00" y="551.00" width="4.00" height="5.90" fill="#fff" />
<rect x="526.00" y="544.80" width="1.00" height="4.20" fill="#fff" />
<rect x="524.00" y="551.00" width="4.00" height="5.90" fill="#fff" />
<rect x="532.00" y="544.80" width="1.00" height="4.20" fill="#fff" />
<rect x="530.00" y="551.00" width="4.00" height="5.90" fill="#fff" />
<rect x="538.00" y="544.80" width="1.00" height="4.20" fill="#fff" />
<rect x="536.00" y="551.00" width="4.00" height="5.90" fill="#fff" />
<rect x="544.00" y="544.80" width="1.00" height="4.20" fill="#fff" />
<rect x="542.00" y="551.00" width="4.00" height="5.90" fill="#fff" />
<rect x="408.00" y="544.80" width="1.00" height="7.00" fill="#fff" />
<rect x="414.00" y="544.80" width="1.00" height="7.00" fill="#fff" />
<rect x="462.00" y="544.80" width="1.00" height="7.00" fill="#fff" />
<rect x="563.00" y="542.00" width="3.70" height="16.80" fill="#000" />
<rect x="564.40" y="557.70" width="1.20" height="1.20" fill="#fff" />
<rect x="566.70" y="549.00" width="7.50" height="1.00" fill="#000" />
<rect x="566.70" y="556.00" width="7.50" height="1.00" fill="#000" />
<rect x="555.00" y="543.00" width="1.00" height="6.00" fill="#000" />
<rect x="555.00" y="549.00" width="6.00" height="1.00" fill="#000" />
<rect x="560.00" y="547.00" width="1.00" height="3.00" fill="#000" />
<rect x="560.00" y="547.00" width="3.00" height="1.00" fill="#000" />
<rect x="553.00" y="547.00" width="1.00" height="10.00" fill="#000" />
<rect x="553.00" y="547.00" width="3.00" height="1.00" fill="#000" />
<rect x="553.00" y="556.00" width="10.00" height="1.00" fill="#000" />
<path d="M603.4,534.4 H714.3 V558.5 H603.4 Z" fill="none" stroke="#000" stroke-width="1.1" />
<rect x="603.00" y="541.20" width="111.80" height="1.10" fill="#000" />
<rect x="604.00" y="539.80" width="1.60" height="2.50" fill="#000" />
<rect x="605.60" y="538.00" width="6.40" height="2.00" fill="#000" />
<rect x="607.70" y="536.80" width="2.20" height="5.00" fill="#000" />
<path d="M605.0,544.2 h7.2 v2.6 h-7.2 Z" fill="none" stroke="#000" stroke-width="1" />
<rect x="614.75" y="538.00" width="6.40" height="2.00" fill="#000" />
<rect x="616.85" y="536.80" width="2.20" height="5.00" fill="#000" />
<path d="M614.15,544.2 h7.2 v2.6 h-7.2 Z" fill="none" stroke="#000" stroke-width="1" />
<rect x="623.90" y="538.00" width="6.40" height="2.00" fill="#000" />
<rect x="626.00" y="536.80" width="2.20" height="5.00" fill="#000" />
<path d="M623.3,544.2 h7.2 v2.6 h-7.2 Z" fill="none" stroke="#000" stroke-width="1" />
<rect x="633.05" y="538.00" width="6.40" height="2.00" fill="#000" />
<rect x="635.15" y="536.80" width="2.20" height="5.00" fill="#000" />
<path d="M632.45,544.2 h7.2 v2.6 h-7.2 Z" fill="none" stroke="#000" stroke-width="1" />
<rect x="642.20" y="538.00" width="6.40" height="2.00" fill="#000" />
<rect x="644.30" y="536.80" width="2.20" height="5.00" fill="#000" />
<path d="M641.6,544.2 h7.2 v2.6 h-7.2 Z" fill="none" stroke="#000" stroke-width="1" />
<rect x="651.35" y="538.00" width="6.40" height="2.00" fill="#000" />
<rect x="653.45" y="536.80" width="2.20" height="5.00" fill="#000" />
<path d="M650.75,544.2 h7.2 v2.6 h-7.2 Z" fill="none" stroke="#000" stroke-width="1" />
<rect x="660.50" y="538.00" width="6.40" height="2.00" fill="#000" />
<rect x="662.60" y="536.80" width="2.20" height="5.00" fill="#000" />
<path d="M659.9,544.2 h7.2 v2.6 h-7.2 Z" fill="none" stroke="#000" stroke-width="1" />
<rect x="669.65" y="538.00" width="6.40" height="2.00" fill="#000" />
<rect x="671.75" y="536.80" width="2.20" height="5.00" fill="#000" />
<path d="M669.05,544.2 h7.2 v2.6 h-7.2 Z" fill="none" stroke="#000" stroke-width="1" />
<rect x="678.80" y="538.00" width="6.40" height="2.00" fill="#000" />
<rect x="680.90" y="536.80" width="2.20" height="5.00" fill="#000" />
<path d="M678.2,544.2 h7.2 v2.6 h-7.2 Z" fill="none" stroke="#000" stroke-width="1" />
<rect x="687.95" y="538.00" width="6.40" height="2.00" fill="#000" />
<rect x="690.05" y="536.80" width="2.20" height="5.00" fill="#000" />
<path d="M687.35,544.2 h7.2 v2.6 h-7.2 Z" fill="none" stroke="#000" stroke-width="1" />
<rect x="697.10" y="538.00" width="6.40" height="2.00" fill="#000" />
<rect x="699.20" y="536.80" width="2.20" height="5.00" fill="#000" />
<path d="M696.5,544.2 h7.2 v2.6 h-7.2 Z" fill="none" stroke="#000" stroke-width="1" />
<rect x="706.25" y="538.00" width="6.40" height="2.00" fill="#000" />
<rect x="708.35" y="536.80" width="2.20" height="5.00" fill="#000" />
<path d="M705.65,544.2 h7.2 v2.6 h-7.2 Z" fill="none" stroke="#000" stroke-width="1" />
<path d="M608.7,548.5 h7 v6.6 h-7 Z" fill="none" stroke="#000" stroke-width="1" />
<path d="M618.09,548.5 h7 v6.6 h-7 Z" fill="none" stroke="#000" stroke-width="1" />
<path d="M627.48,548.5 h7 v6.6 h-7 Z" fill="none" stroke="#000" stroke-width="1" />
<path d="M636.87,548.5 h7 v6.6 h-7 Z" fill="none" stroke="#000" stroke-width="1" />
<path d="M646.26,548.5 h7 v6.6 h-7 Z" fill="none" stroke="#000" stroke-width="1" />
<path d="M655.6500000000001,548.5 h7 v6.6 h-7 Z" fill="none" stroke="#000" stroke-width="1" />
<path d="M665.0400000000001,548.5 h7 v6.6 h-7 Z" fill="none" stroke="#000" stroke-width="1" />
<path d="M674.4300000000001,548.5 h7 v6.6 h-7 Z" fill="none" stroke="#000" stroke-width="1" />
<path d="M683.82,548.5 h7 v6.6 h-7 Z" fill="none" stroke="#000" stroke-width="1" />
<path d="M693.21,548.5 h7 v6.6 h-7 Z" fill="none" stroke="#000" stroke-width="1" />
<path d="M702.6,548.5 h7 v6.6 h-7 Z" fill="none" stroke="#000" stroke-width="1" />
<path d="M603.6,548 L606,549 V555 L603.6,556" fill="none" stroke="#000" stroke-width="1" />
<rect x="605.50" y="548.00" width="1.00" height="7.50" fill="#000" />
<path d="M714.2,548 L712,549 V555 L714.2,556" fill="none" stroke="#000" stroke-width="1" />
<rect x="711.50" y="548.00" width="1.00" height="7.50" fill="#000" />
<rect x="754.90" y="473.00" width="31.00" height="36.80" fill="#000" />
<rect x="780.00" y="468.10" width="6.00" height="46.60" fill="#000" />
<rect x="782.20" y="466.00" width="4.00" height="50.80" fill="#000" />
<rect x="753.00" y="479.00" width="2.50" height="24.80" fill="#000" />
<path d="M749.7,481.6 h4.6 v7.6 h-4.6 Z M749.7,493.5 h4.6 v8.2 h-4.6 Z" fill="#fff" stroke="#000" stroke-width="1" />
<rect x="753.20" y="489.50" width="2.20" height="3.60" fill="#fff" />
<rect x="754.50" y="482.50" width="1.50" height="1.00" fill="#fff" />
<rect x="754.50" y="484.50" width="1.50" height="1.00" fill="#fff" />
<rect x="754.50" y="486.50" width="1.50" height="1.00" fill="#fff" />
<rect x="754.50" y="494.50" width="1.50" height="1.00" fill="#fff" />
<rect x="754.50" y="496.50" width="1.50" height="1.00" fill="#fff" />
<rect x="754.50" y="498.50" width="1.50" height="1.00" fill="#fff" />
<path d="M739,414.9 H760.5 L761.2,416.6 L762.4,418 V424.5 L761.2,425.5 V429.8 L762.4,431 V435.5 L761.2,436.5 V441 L762.4,444 V450.7 L761.2,452.5 L760.5,454.4 H739.2 L737.6,452.5 L736.9,450.7 V445.3 L737.6,444.4 V439.2 L736.9,438.2 V432.6 L737.6,431.7 V424.6 L736.9,423.6 V417.5 L737.6,415.9 Z" fill="none" stroke="#000" stroke-width="1.15" />
<rect x="52.00" y="54.00" width="26.00" height="6.80" fill="#000" />
<rect x="53.00" y="54.90" width="2.00" height="5.00" fill="#fff" />
<rect x="59.00" y="54.90" width="1.00" height="5.00" fill="#fff" />
<rect x="65.00" y="54.90" width="1.00" height="5.00" fill="#fff" />
<rect x="70.00" y="54.90" width="2.00" height="5.00" fill="#fff" />
<rect x="76.00" y="54.90" width="1.00" height="5.00" fill="#fff" />
<rect x="72.80" y="55.30" width="2.40" height="4.30" fill="#fff" />
<rect x="73.60" y="56.40" width="0.90" height="2.20" fill="#000" />
<rect x="47.00" y="64.10" width="31.00" height="6.70" fill="#000" />
<rect x="48.00" y="65.00" width="1.00" height="4.90" fill="#fff" />
<rect x="53.00" y="65.00" width="2.00" height="4.90" fill="#fff" />
<rect x="59.00" y="65.00" width="1.00" height="4.90" fill="#fff" />
<rect x="65.00" y="65.00" width="1.00" height="4.90" fill="#fff" />
<rect x="71.00" y="65.00" width="1.00" height="4.90" fill="#fff" />
<rect x="76.00" y="65.00" width="1.00" height="4.90" fill="#fff" />
<rect x="72.80" y="65.30" width="2.40" height="4.30" fill="#fff" />
<rect x="73.60" y="66.40" width="0.90" height="2.20" fill="#000" />
<rect x="162.00" y="66.00" width="14.00" height="6.80" fill="#000" />
<rect x="163.00" y="66.90" width="1.00" height="5.00" fill="#fff" />
<rect x="168.00" y="66.90" width="1.00" height="5.00" fill="#fff" />
<rect x="173.80" y="66.90" width="1.00" height="5.00" fill="#fff" />
<rect x="162.00" y="75.00" width="14.00" height="6.80" fill="#000" />
<rect x="163.00" y="75.90" width="1.00" height="4.50" fill="#fff" />
<rect x="168.00" y="75.90" width="1.00" height="4.50" fill="#fff" />
<rect x="173.80" y="75.90" width="1.00" height="4.50" fill="#fff" />
<rect x="163.00" y="79.60" width="11.80" height="1.00" fill="#fff" />
<rect x="162.00" y="84.20" width="14.00" height="6.70" fill="#000" />
<rect x="163.00" y="85.10" width="1.00" height="4.40" fill="#fff" />
<rect x="168.00" y="85.10" width="1.00" height="4.40" fill="#fff" />
<rect x="173.80" y="85.10" width="1.00" height="4.40" fill="#fff" />
<rect x="163.00" y="88.70" width="11.80" height="1.00" fill="#fff" />
<rect x="157.00" y="78.00" width="5.00" height="1.40" fill="#000" />
<rect x="301.20" y="99.20" width="12.70" height="13.60" fill="#000" />
<rect x="305.20" y="100.60" width="1.10" height="10.80" fill="#fff" />
<rect x="308.20" y="100.60" width="1.10" height="10.80" fill="#fff" />
<rect x="302.40" y="105.50" width="3.00" height="1.10" fill="#fff" />
<rect x="302.40" y="110.30" width="3.00" height="1.10" fill="#fff" />
<rect x="309.00" y="105.50" width="3.60" height="1.10" fill="#fff" />
<rect x="309.00" y="110.30" width="3.60" height="1.10" fill="#fff" />
<rect x="307.00" y="145.20" width="7.10" height="18.80" fill="#000" />
<rect x="311.80" y="146.50" width="1.00" height="16.40" fill="#fff" />
<rect x="307.90" y="146.50" width="4.90" height="1.00" fill="#fff" />
<rect x="307.90" y="151.30" width="4.90" height="1.00" fill="#fff" />
<rect x="307.90" y="157.50" width="4.90" height="1.00" fill="#fff" />
<rect x="308.80" y="148.10" width="2.40" height="2.50" fill="#fff" />
<rect x="309.50" y="148.80" width="1.00" height="1.10" fill="#000" />
<rect x="316.00" y="185.00" width="6.90" height="12.90" fill="#000" />
<rect x="317.10" y="186.00" width="1.00" height="10.90" fill="#fff" />
<rect x="317.10" y="186.00" width="4.80" height="1.10" fill="#fff" />
<rect x="317.10" y="191.00" width="4.80" height="0.90" fill="#fff" />
<rect x="231.10" y="250.10" width="18.60" height="6.60" fill="#000" />
<rect x="232.10" y="251.10" width="1.10" height="4.60" fill="#fff" />
<rect x="237.00" y="251.10" width="1.10" height="4.60" fill="#fff" />
<rect x="243.10" y="251.10" width="1.10" height="4.60" fill="#fff" />
<rect x="234.00" y="251.90" width="2.10" height="3.00" fill="#fff" />
<rect x="34.00" y="285.00" width="7.10" height="19.00" fill="#000" />
<rect x="38.80" y="286.30" width="1.00" height="16.60" fill="#fff" />
<rect x="34.90" y="286.30" width="4.90" height="1.00" fill="#fff" />
<rect x="34.90" y="291.10" width="4.90" height="1.00" fill="#fff" />
<rect x="34.90" y="297.30" width="4.90" height="1.00" fill="#fff" />
<rect x="35.80" y="287.90" width="2.40" height="2.50" fill="#fff" />
<rect x="36.50" y="288.60" width="1.00" height="1.10" fill="#000" />
<rect x="542.10" y="142.90" width="13.80" height="6.80" fill="#000" />
<rect x="543.00" y="143.80" width="1.10" height="5.00" fill="#fff" />
<rect x="548.00" y="143.80" width="2.10" height="5.00" fill="#fff" />
<rect x="554.00" y="143.80" width="1.10" height="5.00" fill="#fff" />
<rect x="401.00" y="273.00" width="13.90" height="6.80" fill="#000" />
<rect x="402.00" y="273.80" width="1.10" height="5.20" fill="#fff" />
<rect x="408.00" y="273.80" width="1.10" height="5.20" fill="#fff" />
<rect x="413.00" y="273.80" width="1.10" height="5.20" fill="#fff" />
<rect x="500.00" y="113.80" width="6.90" height="18.80" fill="#000" />
<rect x="501.20" y="120.00" width="4.50" height="1.10" fill="#fff" />
<rect x="501.20" y="125.50" width="4.50" height="1.10" fill="#fff" />
<rect x="501.20" y="131.00" width="4.50" height="1.10" fill="#fff" />
<rect x="501.50" y="127.80" width="3.50" height="2.20" fill="#fff" />
<rect x="502.50" y="128.50" width="1.50" height="1.00" fill="#000" />
<rect x="510.60" y="89.60" width="32.60" height="16.40" fill="#000" />
<rect x="725.20" y="311.70" width="7.30" height="18.40" fill="#000" />
<rect x="730.20" y="313.00" width="1.00" height="16.00" fill="#fff" />
<rect x="726.10" y="313.00" width="5.10" height="1.00" fill="#fff" />
<rect x="726.10" y="317.80" width="5.10" height="1.00" fill="#fff" />
<rect x="726.10" y="324.00" width="5.10" height="1.00" fill="#fff" />
<rect x="727.00" y="314.60" width="2.40" height="2.50" fill="#fff" />
<rect x="727.70" y="315.30" width="1.00" height="1.10" fill="#000" />
<rect x="746.20" y="394.90" width="24.80" height="5.90" fill="#000" />
<rect x="747.30" y="395.90" width="1.00" height="3.90" fill="#fff" />
<rect x="752.60" y="395.90" width="1.00" height="3.90" fill="#fff" />
<rect x="758.30" y="395.90" width="1.00" height="3.90" fill="#fff" />
<rect x="764.10" y="395.90" width="1.00" height="3.90" fill="#fff" />
<rect x="766.30" y="397.10" width="3.00" height="1.70" fill="#fff" />
<rect x="639.80" y="451.20" width="14.20" height="6.30" fill="#000" />
<rect x="641.00" y="452.20" width="1.00" height="4.30" fill="#fff" />
<rect x="646.00" y="452.20" width="1.00" height="4.30" fill="#fff" />
<rect x="652.00" y="452.20" width="1.00" height="4.30" fill="#fff" />
<rect x="402.60" y="92.80" width="59.80" height="18.20" fill="#000" />
<rect x="546.60" y="70.30" width="57.70" height="18.20" fill="#000" />
<path d="M502.2,6.8 H547.8 L549.8,8.8 V23.8 L547.8,25.8 H502.2 L500.2,23.8 V8.8 Z" fill="#000" stroke="none" stroke-width="1" />
<path d="M502.7,8.8 H547.3 V22.8 H502.7 L502.2,22.3 V9.3 Z" fill="#fff" stroke="none" stroke-width="1" />
<g aria-label="CACHE" fill="none" stroke="#000" stroke-width="1.10" stroke-linejoin="miter" stroke-linecap="butt"><path transform="translate(502.40,10.80) scale(1.000)" d="M4.8,2.1 Q4.5,0.5 2.7,0.5 Q0.5,0.5 0.5,3.2 V6.8 Q0.5,9.5 2.7,9.5 Q4.5,9.5 4.8,7.9"/><path transform="translate(512.05,10.80) scale(1.000)" d="M0.4,10 L3.45,0.4 L6.5,10 M1.5,6.6 H5.4"/><path transform="translate(521.40,10.80) scale(1.000)" d="M4.8,2.1 Q4.5,0.5 2.7,0.5 Q0.5,0.5 0.5,3.2 V6.8 Q0.5,9.5 2.7,9.5 Q4.5,9.5 4.8,7.9"/><path transform="translate(531.00,10.80) scale(1.000)" d="M0.5,0 V10 M5.5,0 V10 M0.5,4.8 H5.5"/><path transform="translate(540.80,10.80) scale(1.000)" d="M4.7,0.5 H0.5 V9.5 H4.7 M0.5,4.8 H4.3"/></g>
<path d="M95.4,48 H127.19999999999999 L129.2,50 V64.5 L127.19999999999999,66.5 H95.4 L93.4,64.5 V50 Z" fill="#000" stroke="none" stroke-width="1" />
<path d="M95.9,50 H126.69999999999999 V63.5 H95.9 L95.4,63.0 V50.5 Z" fill="#fff" stroke="none" stroke-width="1" />
<g aria-label="J17" fill="none" stroke="#000" stroke-width="1.10" stroke-linejoin="miter" stroke-linecap="butt"><path transform="translate(98.90,51.10) scale(1.000)" d="M3.7,0 V7.6 Q3.7,9.5 2.1,9.5 Q0.5,9.5 0.5,7.6 V7.2"/><path transform="translate(106.85,51.10) scale(1.000)" d="M2.9,10 V0.2 L0.4,2.8"/><path transform="translate(113.95,51.10) scale(1.000)" d="M0.5,0.5 H4.6 Q2.6,4.2 1.9,10"/></g>
<path d="M49,88 H78.7 L80.7,90 V103.7 L78.7,105.7 H49 L47,103.7 V90 Z" fill="#000" stroke="none" stroke-width="1" />
<path d="M49.5,90 H78.2 V102.7 H49.5 L49,102.2 V90.5 Z" fill="#fff" stroke="none" stroke-width="1" />
<g aria-label="J18" fill="none" stroke="#000" stroke-width="1.10" stroke-linejoin="miter" stroke-linecap="butt"><path transform="translate(51.90,90.90) scale(1.000)" d="M3.7,0 V7.6 Q3.7,9.5 2.1,9.5 Q0.5,9.5 0.5,7.6 V7.2"/><path transform="translate(59.75,90.90) scale(1.000)" d="M2.9,10 V0.2 L0.4,2.8"/><path transform="translate(65.85,90.90) scale(1.000)" d="M2.65,4.7 Q0.6,4.7 0.6,2.6 Q0.6,0.5 2.65,0.5 Q4.7,0.5 4.7,2.6 Q4.7,4.7 2.65,4.7 Q0.5,4.7 0.5,7.1 Q0.5,9.5 2.65,9.5 Q4.8,9.5 4.8,7.1 Q4.8,4.7 2.65,4.7 Z"/></g>
<path d="M192.3,59.8 H223.9 L225.9,61.8 V76.8 L223.9,78.8 H192.3 L190.3,76.8 V61.8 Z" fill="#000" stroke="none" stroke-width="1" />
<path d="M192.8,61.8 H223.4 V75.8 H192.8 L192.3,75.3 V62.3 Z" fill="#fff" stroke="none" stroke-width="1" />
<g aria-label="SW1" fill="none" stroke="#000" stroke-width="1.10" stroke-linejoin="miter" stroke-linecap="butt"><path transform="translate(193.95,62.70) scale(1.000)" d="M5.6,2 Q5.1,0.5 3.1,0.5 Q0.7,0.5 0.7,2.6 Q0.7,4.3 3.1,4.8 Q5.7,5.3 5.7,7.3 Q5.7,9.5 3.1,9.5 Q1,9.5 0.5,7.9"/><path transform="translate(203.20,62.70) scale(1.000)" d="M0.5,0.2 L2.1,10 L4.3,2.4 L6.5,10 L8.1,0.2"/><path transform="translate(215.95,62.70) scale(1.000)" d="M2.9,10 V0.2 L0.4,2.8"/></g>
<path d="M112.2,70 H143.8 L145.8,72 V85.7 L143.8,87.7 H112.2 L110.2,85.7 V72 Z" fill="#000" stroke="none" stroke-width="1" />
<path d="M112.7,72 H143.3 V84.7 H112.7 L112.2,84.2 V72.5 Z" fill="#fff" stroke="none" stroke-width="1" />
<g aria-label="SW2" fill="none" stroke="#000" stroke-width="1.10" stroke-linejoin="miter" stroke-linecap="butt"><path transform="translate(114.85,72.60) scale(1.000)" d="M5.6,2 Q5.1,0.5 3.1,0.5 Q0.7,0.5 0.7,2.6 Q0.7,4.3 3.1,4.8 Q5.7,5.3 5.7,7.3 Q5.7,9.5 3.1,9.5 Q1,9.5 0.5,7.9"/><path transform="translate(123.60,72.60) scale(1.000)" d="M0.5,0.2 L2.1,10 L4.3,2.4 L6.5,10 L8.1,0.2"/><path transform="translate(134.95,72.60) scale(1.000)" d="M0.5,2.3 Q0.7,0.5 2.55,0.5 Q4.6,0.5 4.6,2.6 Q4.6,4.2 3,5.6 L0.5,9.5 H4.7"/></g>
<path d="M150.3,108.5 H189.5 L191.5,110.5 V125.6 L189.5,127.6 H150.3 L148.3,125.6 V110.5 Z" fill="#000" stroke="none" stroke-width="1" />
<path d="M150.8,110.5 H189.0 V124.6 H150.8 L150.3,124.1 V111.0 Z" fill="#fff" stroke="none" stroke-width="1" />
<g aria-label="JP11" fill="none" stroke="#000" stroke-width="1.10" stroke-linejoin="miter" stroke-linecap="butt"><path transform="translate(153.80,111.00) scale(1.000)" d="M3.7,0 V7.6 Q3.7,9.5 2.1,9.5 Q0.5,9.5 0.5,7.6 V7.2"/><path transform="translate(162.00,111.00) scale(1.000)" d="M0.5,10 V0.5 H3 Q4.5,0.5 4.5,2.6 Q4.5,5 3,5 H0.5"/><path transform="translate(170.65,111.00) scale(1.000)" d="M2.9,10 V0.2 L0.4,2.8"/><path transform="translate(178.15,111.00) scale(1.000)" d="M2.9,10 V0.2 L0.4,2.8"/></g>
<path d="M290,63.9 H319.9 L321.9,65.9 V80.5 L319.9,82.5 H290 L288,80.5 V65.9 Z" fill="#000" stroke="none" stroke-width="1" />
<path d="M290.5,65.9 H319.4 V79.5 H290.5 L290,79.0 V66.4 Z" fill="#fff" stroke="none" stroke-width="1" />
<g aria-label="JP7" fill="none" stroke="#000" stroke-width="1.10" stroke-linejoin="miter" stroke-linecap="butt"><path transform="translate(293.90,66.90) scale(1.000)" d="M3.7,0 V7.6 Q3.7,9.5 2.1,9.5 Q0.5,9.5 0.5,7.6 V7.2"/><path transform="translate(302.00,66.90) scale(1.000)" d="M0.5,10 V0.5 H3 Q4.5,0.5 4.5,2.6 Q4.5,5 3,5 H0.5"/><path transform="translate(309.95,66.90) scale(1.000)" d="M0.5,0.5 H4.6 Q2.6,4.2 1.9,10"/></g>
<path d="M332.1,96 H364 L366,98 V112.8 L364,114.8 H332.1 L330.1,112.8 V98 Z" fill="#000" stroke="none" stroke-width="1" />
<path d="M332.6,98 H363.5 V111.8 H332.6 L332.1,111.3 V98.5 Z" fill="#fff" stroke="none" stroke-width="1" />
<g aria-label="JP6" fill="none" stroke="#000" stroke-width="1.10" stroke-linejoin="miter" stroke-linecap="butt"><path transform="translate(334.90,98.80) scale(1.000)" d="M3.7,0 V7.6 Q3.7,9.5 2.1,9.5 Q0.5,9.5 0.5,7.6 V7.2"/><path transform="translate(343.10,98.80) scale(1.000)" d="M0.5,10 V0.5 H3 Q4.5,0.5 4.5,2.6 Q4.5,5 3,5 H0.5"/><path transform="translate(350.90,98.80) scale(1.000)" d="M4.6,1.6 Q4.1,0.5 2.8,0.5 Q0.5,0.5 0.5,4 V7 Q0.5,9.5 2.7,9.5 Q4.9,9.5 4.9,7.1 Q4.9,4.7 2.7,4.7 Q0.5,4.7 0.5,6.2"/></g>
<path d="M331.2,145.9 H363 L365,147.9 V162.8 L363,164.8 H331.2 L329.2,162.8 V147.9 Z" fill="#000" stroke="none" stroke-width="1" />
<path d="M331.7,147.9 H362.5 V161.8 H331.7 L331.2,161.3 V148.4 Z" fill="#fff" stroke="none" stroke-width="1" />
<g aria-label="JP8" fill="none" stroke="#000" stroke-width="1.10" stroke-linejoin="miter" stroke-linecap="butt"><path transform="translate(334.80,149.70) scale(1.000)" d="M3.7,0 V7.6 Q3.7,9.5 2.1,9.5 Q0.5,9.5 0.5,7.6 V7.2"/><path transform="translate(343.00,149.70) scale(1.000)" d="M0.5,10 V0.5 H3 Q4.5,0.5 4.5,2.6 Q4.5,5 3,5 H0.5"/><path transform="translate(351.05,149.70) scale(1.000)" d="M2.65,4.7 Q0.6,4.7 0.6,2.6 Q0.6,0.5 2.65,0.5 Q4.7,0.5 4.7,2.6 Q4.7,4.7 2.65,4.7 Q0.5,4.7 0.5,7.1 Q0.5,9.5 2.65,9.5 Q4.8,9.5 4.8,7.1 Q4.8,4.7 2.65,4.7 Z"/></g>
<path d="M266.9,181.9 H299 L301,183.9 V198.8 L299,200.8 H266.9 L264.9,198.8 V183.9 Z" fill="#000" stroke="none" stroke-width="1" />
<path d="M267.4,183.9 H298.5 V197.8 H267.4 L266.9,197.3 V184.4 Z" fill="#fff" stroke="none" stroke-width="1" />
<g aria-label="JP9" fill="none" stroke="#000" stroke-width="1.10" stroke-linejoin="miter" stroke-linecap="butt"><path transform="translate(271.90,184.90) scale(1.000)" d="M3.7,0 V7.6 Q3.7,9.5 2.1,9.5 Q0.5,9.5 0.5,7.6 V7.2"/><path transform="translate(280.00,184.90) scale(1.000)" d="M0.5,10 V0.5 H3 Q4.5,0.5 4.5,2.6 Q4.5,5 3,5 H0.5"/><path transform="translate(287.00,184.90) scale(1.000)" d="M0.5,8.4 Q1,9.5 2.3,9.5 Q4.5,9.5 4.5,6 V3 Q4.5,0.5 2.5,0.5 Q0.5,0.5 0.5,2.9 Q0.5,5.3 2.4,5.3 Q4.5,5.3 4.5,3.8"/></g>
<path d="M268,243.7 H305.9 L307.9,245.7 V260.8 L305.9,262.8 H268 L266,260.8 V245.7 Z" fill="#000" stroke="none" stroke-width="1" />
<path d="M268.5,245.7 H305.4 V259.8 H268.5 L268,259.3 V246.2 Z" fill="#fff" stroke="none" stroke-width="1" />
<g aria-label="JP10" fill="none" stroke="#000" stroke-width="1.10" stroke-linejoin="miter" stroke-linecap="butt"><path transform="translate(271.80,247.10) scale(1.000)" d="M3.7,0 V7.6 Q3.7,9.5 2.1,9.5 Q0.5,9.5 0.5,7.6 V7.2"/><path transform="translate(280.00,247.10) scale(1.000)" d="M0.5,10 V0.5 H3 Q4.5,0.5 4.5,2.6 Q4.5,5 3,5 H0.5"/><path transform="translate(287.95,247.10) scale(1.000)" d="M2.9,10 V0.2 L0.4,2.8"/><path transform="translate(295.10,247.10) scale(1.000)" d="M2.5,0.5 L4.5,3.2 V6.8 L2.5,9.5 L0.5,6.8 V3.2 Z"/></g>
<path d="M58,285.7 H95.9 L97.9,287.7 V302.8 L95.9,304.8 H58 L56,302.8 V287.7 Z" fill="#000" stroke="none" stroke-width="1" />
<path d="M58.5,287.7 H95.4 V301.8 H58.5 L58,301.3 V288.2 Z" fill="#fff" stroke="none" stroke-width="1" />
<g aria-label="JP12" fill="none" stroke="#000" stroke-width="1.10" stroke-linejoin="miter" stroke-linecap="butt"><path transform="translate(61.80,290.00) scale(1.000)" d="M3.7,0 V7.6 Q3.7,9.5 2.1,9.5 Q0.5,9.5 0.5,7.6 V7.2"/><path transform="translate(70.00,290.00) scale(1.000)" d="M0.5,10 V0.5 H3 Q4.5,0.5 4.5,2.6 Q4.5,5 3,5 H0.5"/><path transform="translate(78.75,290.00) scale(1.000)" d="M2.9,10 V0.2 L0.4,2.8"/><path transform="translate(84.95,290.00) scale(1.000)" d="M0.5,2.3 Q0.7,0.5 2.55,0.5 Q4.6,0.5 4.6,2.6 Q4.6,4.2 3,5.6 L0.5,9.5 H4.7"/></g>
<path d="M493.1,137.1 H526 L528,139.1 V153.7 L526,155.7 H493.1 L491.1,153.7 V139.1 Z" fill="#000" stroke="none" stroke-width="1" />
<path d="M493.6,139.1 H525.5 V152.7 H493.6 L493.1,152.2 V139.6 Z" fill="#fff" stroke="none" stroke-width="1" />
<g aria-label="JP4" fill="none" stroke="#000" stroke-width="1.10" stroke-linejoin="miter" stroke-linecap="butt"><path transform="translate(497.90,139.90) scale(1.000)" d="M3.7,0 V7.6 Q3.7,9.5 2.1,9.5 Q0.5,9.5 0.5,7.6 V7.2"/><path transform="translate(506.10,139.90) scale(1.000)" d="M0.5,10 V0.5 H3 Q4.5,0.5 4.5,2.6 Q4.5,5 3,5 H0.5"/><path transform="translate(513.00,139.90) scale(1.000)" d="M3.6,10 V0.5 L0.5,6.8 V7.1 H4.9"/></g>
<path d="M352.1,266.9 H384 L386,268.9 V283.8 L384,285.8 H352.1 L350.1,283.8 V268.9 Z" fill="#000" stroke="none" stroke-width="1" />
<path d="M352.6,268.9 H383.5 V282.8 H352.6 L352.1,282.3 V269.4 Z" fill="#fff" stroke="none" stroke-width="1" />
<g aria-label="JP5" fill="none" stroke="#000" stroke-width="1.10" stroke-linejoin="miter" stroke-linecap="butt"><path transform="translate(356.80,270.70) scale(1.000)" d="M3.7,0 V7.6 Q3.7,9.5 2.1,9.5 Q0.5,9.5 0.5,7.6 V7.2"/><path transform="translate(365.00,270.70) scale(1.000)" d="M0.5,10 V0.5 H3 Q4.5,0.5 4.5,2.6 Q4.5,5 3,5 H0.5"/><path transform="translate(373.05,270.70) scale(1.000)" d="M4.6,0.5 H1.1 L0.8,4.6 Q1.5,4.1 2.7,4.1 Q4.8,4.1 4.8,6.8 Q4.8,9.5 2.6,9.5 Q1,9.5 0.5,8.3"/></g>
<path d="M749.9,311.8 H781.8 L783.8,313.8 V328.4 L781.8,330.4 H749.9 L747.9,328.4 V313.8 Z" fill="#000" stroke="none" stroke-width="1" />
<path d="M750.4,313.8 H781.3 V327.4 H750.4 L749.9,326.9 V314.3 Z" fill="#fff" stroke="none" stroke-width="1" />
<g aria-label="JP1" fill="none" stroke="#000" stroke-width="1.10" stroke-linejoin="miter" stroke-linecap="butt"><path transform="translate(753.90,314.60) scale(1.000)" d="M3.7,0 V7.6 Q3.7,9.5 2.1,9.5 Q0.5,9.5 0.5,7.6 V7.2"/><path transform="translate(763.00,314.60) scale(1.000)" d="M0.5,10 V0.5 H3 Q4.5,0.5 4.5,2.6 Q4.5,5 3,5 H0.5"/><path transform="translate(771.15,314.60) scale(1.000)" d="M2.9,10 V0.2 L0.4,2.8"/></g>
<path d="M748.2,358.8 H769.8 L771.8,360.8 V375.7 L769.8,377.7 H748.2 L746.2,375.7 V360.8 Z" fill="#000" stroke="none" stroke-width="1" />
<path d="M748.7,360.8 H769.3 V374.7 H748.7 L748.2,374.2 V361.3 Z" fill="#fff" stroke="none" stroke-width="1" />
<g aria-label="J1" fill="none" stroke="#000" stroke-width="1.20" stroke-linejoin="miter" stroke-linecap="butt"><path transform="translate(751.88,362.66) scale(0.914)" d="M3.7,0 V7.6 Q3.7,9.5 2.1,9.5 Q0.5,9.5 0.5,7.6 V7.2"/><path transform="translate(760.19,362.66) scale(0.914)" d="M2.9,10 V0.2 L0.4,2.8"/></g>
<path d="M633.4,415.9 H662.9 L664.9,417.9 V431.5 L662.9,433.5 H633.4 L631.4,431.5 V417.9 Z" fill="#000" stroke="none" stroke-width="1" />
<path d="M633.9,417.9 H662.4 V430.5 H633.9 L633.4,430.0 V418.4 Z" fill="#fff" stroke="none" stroke-width="1" />
<g aria-label="JP2" fill="none" stroke="#000" stroke-width="1.23" stroke-linejoin="miter" stroke-linecap="butt"><path transform="translate(637.23,419.17) scale(0.893)" d="M3.7,0 V7.6 Q3.7,9.5 2.1,9.5 Q0.5,9.5 0.5,7.6 V7.2"/><path transform="translate(644.87,419.17) scale(0.893)" d="M0.5,10 V0.5 H3 Q4.5,0.5 4.5,2.6 Q4.5,5 3,5 H0.5"/><path transform="translate(653.32,419.17) scale(0.893)" d="M0.5,2.3 Q0.7,0.5 2.55,0.5 Q4.6,0.5 4.6,2.6 Q4.6,4.2 3,5.6 L0.5,9.5 H4.7"/></g>
<path d="M84.2,154.6 H112.9 L114.9,156.6 V170.4 L112.9,172.4 H84.2 L82.2,170.4 V156.6 Z" fill="#000" stroke="none" stroke-width="1" />
<path d="M84.7,156.6 H112.4 V169.4 H84.7 L84.2,168.9 V157.1 Z" fill="#fff" stroke="none" stroke-width="1" />
<g aria-label="TAG" fill="none" stroke="#000" stroke-width="1.10" stroke-linejoin="miter" stroke-linecap="butt"><path transform="translate(87.00,157.90) scale(1.000)" d="M0,0.5 H4.8 M2.4,0.5 V10"/><path transform="translate(93.95,157.90) scale(1.000)" d="M0.4,10 L3.45,0.4 L6.5,10 M1.5,6.6 H5.4"/><path transform="translate(103.10,157.90) scale(1.000)" d="M5.3,2.1 Q5,0.5 3,0.5 Q0.5,0.5 0.5,3.5 V6.6 Q0.5,9.5 3,9.5 Q5.5,9.5 5.5,7.2 V5.6 H3.3"/></g>
<rect x="430.60" y="436.10" width="58.00" height="16.00" fill="#000" />
<rect x="432.40" y="437.60" width="54.20" height="12.90" fill="#fff" />
<g aria-label="BANK 0" fill="none" stroke="#000" stroke-width="1.14" stroke-linejoin="miter" stroke-linecap="butt"><path transform="translate(437.09,438.66) scale(0.964)" d="M0.5,0.5 H2.9 Q4.5,0.5 4.5,2.6 Q4.5,4.7 2.9,4.7 H0.5 M2.9,4.7 Q4.7,4.7 4.7,7.1 Q4.7,9.5 2.9,9.5 H0.5 V0.5"/><path transform="translate(444.17,438.66) scale(0.964)" d="M0.4,10 L3.45,0.4 L6.5,10 M1.5,6.6 H5.4"/><path transform="translate(453.70,438.66) scale(0.964)" d="M0.5,10 V0 L4.9,10 V0"/><path transform="translate(463.20,438.66) scale(0.964)" d="M0.5,0 V10 M5.3,0.3 L0.8,5.6 M2.3,4 L5.4,10"/><path transform="translate(477.29,438.66) scale(0.964)" d="M2.5,0.5 L4.5,3.2 V6.8 L2.5,9.5 L0.5,6.8 V3.2 Z"/></g>
<rect x="433.60" y="516.00" width="58.30" height="16.20" fill="#000" />
<rect x="435.40" y="517.40" width="54.60" height="13.10" fill="#fff" />
<g aria-label="BANK 1" fill="none" stroke="#000" stroke-width="1.14" stroke-linejoin="miter" stroke-linecap="butt"><path transform="translate(440.09,518.96) scale(0.964)" d="M0.5,0.5 H2.9 Q4.5,0.5 4.5,2.6 Q4.5,4.7 2.9,4.7 H0.5 M2.9,4.7 Q4.7,4.7 4.7,7.1 Q4.7,9.5 2.9,9.5 H0.5 V0.5"/><path transform="translate(447.17,518.96) scale(0.964)" d="M0.4,10 L3.45,0.4 L6.5,10 M1.5,6.6 H5.4"/><path transform="translate(456.90,518.96) scale(0.964)" d="M0.5,10 V0 L4.9,10 V0"/><path transform="translate(466.20,518.96) scale(0.964)" d="M0.5,0 V10 M5.3,0.3 L0.8,5.6 M2.3,4 L5.4,10"/><path transform="translate(482.01,518.96) scale(0.964)" d="M2.9,10 V0.2 L0.4,2.8"/></g>
<rect x="193.90" y="142.80" width="28.00" height="14.10" fill="#fff" />
<g aria-label="CPU" fill="none" stroke="#000" stroke-width="1.10" stroke-linejoin="miter" stroke-linecap="butt"><path transform="translate(194.70,143.90) scale(1.000)" d="M4.8,2.1 Q4.5,0.5 2.7,0.5 Q0.5,0.5 0.5,3.2 V6.8 Q0.5,9.5 2.7,9.5 Q4.5,9.5 4.8,7.9"/><path transform="translate(205.00,143.90) scale(1.000)" d="M0.5,10 V0.5 H3 Q4.5,0.5 4.5,2.6 Q4.5,5 3,5 H0.5"/><path transform="translate(212.95,143.90) scale(1.000)" d="M0.5,0 V7.1 Q0.5,9.5 3.05,9.5 Q5.6,9.5 5.6,7.1 V0"/></g>
<rect x="421.90" y="335.20" width="40.10" height="14.80" fill="#fff" />
<g aria-label="BIOS" fill="none" stroke="#000" stroke-width="1.10" stroke-linejoin="miter" stroke-linecap="butt"><path transform="translate(426.60,336.70) scale(1.000)" d="M0.5,0.5 H2.9 Q4.5,0.5 4.5,2.6 Q4.5,4.7 2.9,4.7 H0.5 M2.9,4.7 Q4.7,4.7 4.7,7.1 Q4.7,9.5 2.9,9.5 H0.5 V0.5"/><path transform="translate(435.90,336.70) scale(1.000)" d="M0.5,0 V10"/><path transform="translate(440.05,336.70) scale(1.000)" d="M3.95,0.5 Q7.4,0.5 7.4,5 Q7.4,9.5 3.95,9.5 Q0.5,9.5 0.5,5 Q0.5,0.5 3.95,0.5 Z"/><path transform="translate(450.05,336.70) scale(1.000)" d="M5.6,2 Q5.1,0.5 3.1,0.5 Q0.7,0.5 0.7,2.6 Q0.7,4.3 3.1,4.8 Q5.7,5.3 5.7,7.3 Q5.7,9.5 3.1,9.5 Q1,9.5 0.5,7.9"/></g>
<rect x="643.90" y="500.80" width="28.20" height="14.10" fill="#fff" />
<g aria-label="KBD" fill="none" stroke="#000" stroke-width="1.10" stroke-linejoin="miter" stroke-linecap="butt"><path transform="translate(646.10,501.90) scale(1.000)" d="M0.5,0 V10 M5.3,0.3 L0.8,5.6 M2.3,4 L5.4,10"/><path transform="translate(654.90,501.90) scale(1.000)" d="M0.5,0.5 H2.9 Q4.5,0.5 4.5,2.6 Q4.5,4.7 2.9,4.7 H0.5 M2.9,4.7 Q4.7,4.7 4.7,7.1 Q4.7,9.5 2.9,9.5 H0.5 V0.5"/><path transform="translate(663.25,501.90) scale(1.000)" d="M0.5,0.5 H2.4 Q5.4,0.5 5.4,5 Q5.4,9.5 2.4,9.5 H0.5 Z"/></g>
<rect x="402.60" y="92.80" width="59.80" height="18.20" fill="#000" />
<rect x="404.90" y="94.90" width="55.10" height="14.00" fill="#fff" />
<g aria-label="BANK 0" fill="none" stroke="#000" stroke-width="1.10" stroke-linejoin="miter" stroke-linecap="butt"><path transform="translate(408.90,96.80) scale(1.000)" d="M0.5,0.5 H2.9 Q4.5,0.5 4.5,2.6 Q4.5,4.7 2.9,4.7 H0.5 M2.9,4.7 Q4.7,4.7 4.7,7.1 Q4.7,9.5 2.9,9.5 H0.5 V0.5"/><path transform="translate(416.85,96.80) scale(1.000)" d="M0.4,10 L3.45,0.4 L6.5,10 M1.5,6.6 H5.4"/><path transform="translate(427.10,96.80) scale(1.000)" d="M0.5,10 V0 L4.9,10 V0"/><path transform="translate(436.10,96.80) scale(1.000)" d="M0.5,0 V10 M5.3,0.3 L0.8,5.6 M2.3,4 L5.4,10"/><path transform="translate(449.90,96.80) scale(1.000)" d="M2.5,0.5 L4.5,3.2 V6.8 L2.5,9.5 L0.5,6.8 V3.2 Z"/></g>
<rect x="546.60" y="70.30" width="57.70" height="18.20" fill="#000" />
<rect x="548.00" y="73.30" width="55.00" height="14.20" fill="#fff" />
<g aria-label="BANK 1" fill="none" stroke="#000" stroke-width="1.10" stroke-linejoin="miter" stroke-linecap="butt"><path transform="translate(551.70,74.70) scale(1.000)" d="M0.5,0.5 H2.9 Q4.5,0.5 4.5,2.6 Q4.5,4.7 2.9,4.7 H0.5 M2.9,4.7 Q4.7,4.7 4.7,7.1 Q4.7,9.5 2.9,9.5 H0.5 V0.5"/><path transform="translate(560.35,74.70) scale(1.000)" d="M0.4,10 L3.45,0.4 L6.5,10 M1.5,6.6 H5.4"/><path transform="translate(571.90,74.70) scale(1.000)" d="M0.5,10 V0 L4.9,10 V0"/><path transform="translate(580.50,74.70) scale(1.000)" d="M0.5,0 V10 M5.3,0.3 L0.8,5.6 M2.3,4 L5.4,10"/><path transform="translate(594.65,74.70) scale(1.000)" d="M2.9,10 V0.2 L0.4,2.8"/></g>
<rect x="510.40" y="89.30" width="33.60" height="17.00" fill="#000" />
<rect x="512.10" y="91.10" width="30.00" height="13.40" fill="#fff" />
<g aria-label="JP3" fill="none" stroke="#000" stroke-width="1.10" stroke-linejoin="miter" stroke-linecap="butt"><path transform="translate(514.90,92.90) scale(1.000)" d="M3.7,0 V7.6 Q3.7,9.5 2.1,9.5 Q0.5,9.5 0.5,7.6 V7.2"/><path transform="translate(523.00,92.90) scale(1.000)" d="M0.5,10 V0.5 H3 Q4.5,0.5 4.5,2.6 Q4.5,5 3,5 H0.5"/><path transform="translate(530.75,92.90) scale(1.000)" d="M0.5,1.6 Q1,0.5 2.6,0.5 Q4.7,0.5 4.7,2.6 Q4.7,4.7 2.4,4.7 M2.4,4.7 Q4.8,4.7 4.8,7.1 Q4.8,9.5 2.6,9.5 Q1,9.5 0.5,8.3"/></g>
<path d="M93.90,52.60 L87.00,55.00 L82.00,55.20 L82.00,56.50 L79.00,56.50 L79.00,58.30 L82.00,58.30 L82.00,59.60 L87.00,59.80 L93.90,62.20 Z" fill="#000" stroke="none" stroke-width="1" />
<path d="M96.40,55.60 L93.90,55.60 L87.00,57.20 L87.00,57.60 L93.90,59.20 L96.40,59.20 Z" fill="#fff" stroke="none" stroke-width="1" />
<path d="M59.60,88.30 L61.60,80.00 L61.80,75.00 L63.10,75.00 L63.10,72.00 L64.90,72.00 L64.90,75.00 L66.20,75.00 L66.40,80.00 L68.40,88.30 Z" fill="#000" stroke="none" stroke-width="1" />
<path d="M62.70,90.80 L62.70,88.30 L63.80,80.00 L64.20,80.00 L65.30,88.30 L65.30,90.80 Z" fill="#fff" stroke="none" stroke-width="1" />
<path d="M191.20,64.60 L185.00,67.00 L180.00,67.20 L180.00,68.50 L177.00,68.50 L177.00,70.30 L180.00,70.30 L180.00,71.60 L185.00,71.80 L191.20,74.20 Z" fill="#000" stroke="none" stroke-width="1" />
<path d="M193.70,67.60 L191.20,67.60 L185.00,69.20 L185.00,69.60 L191.20,71.20 L193.70,71.20 Z" fill="#fff" stroke="none" stroke-width="1" />
<path d="M144.70,74.20 L148.00,76.60 L153.00,76.80 L153.00,78.10 L156.00,78.10 L156.00,79.90 L153.00,79.90 L153.00,81.20 L148.00,81.40 L144.70,83.80 Z" fill="#000" stroke="none" stroke-width="1" />
<path d="M142.20,77.20 L144.70,77.20 L148.00,78.80 L148.00,79.20 L144.70,80.80 L142.20,80.80 Z" fill="#fff" stroke="none" stroke-width="1" />
<rect x="167.60" y="90.90" width="2.30" height="5.40" fill="#000" />
<path d="M168,102.9 H169.6 V105.5 H170.2 V109.9 H168 Z" fill="#fff" stroke="none" stroke-width="1" />
<path d="M299.60,82.00 L301.60,90.20 L301.80,95.20 L303.10,95.20 L303.10,98.20 L304.90,98.20 L304.90,95.20 L306.20,95.20 L306.40,90.20 L308.40,82.00 Z" fill="#000" stroke="none" stroke-width="1" />
<path d="M302.70,79.50 L302.70,82.00 L303.80,90.20 L304.20,90.20 L305.30,82.00 L305.30,79.50 Z" fill="#fff" stroke="none" stroke-width="1" />
<path d="M330.60,100.60 L322.90,103.00 L317.90,103.20 L317.90,104.50 L314.90,104.50 L314.90,106.30 L317.90,106.30 L317.90,107.60 L322.90,107.80 L330.60,110.20 Z" fill="#000" stroke="none" stroke-width="1" />
<path d="M333.10,103.60 L330.60,103.60 L322.90,105.20 L322.90,105.60 L330.60,107.20 L333.10,107.20 Z" fill="#fff" stroke="none" stroke-width="1" />
<path d="M329.70,150.20 L323.10,152.60 L318.10,152.80 L318.10,154.10 L315.10,154.10 L315.10,155.90 L318.10,155.90 L318.10,157.20 L323.10,157.40 L329.70,159.80 Z" fill="#000" stroke="none" stroke-width="1" />
<path d="M332.20,153.20 L329.70,153.20 L323.10,154.80 L323.10,155.20 L329.70,156.80 L332.20,156.80 Z" fill="#fff" stroke="none" stroke-width="1" />
<path d="M300.50,186.90 L307.00,189.30 L312.00,189.50 L312.00,190.80 L315.00,190.80 L315.00,192.60 L312.00,192.60 L312.00,193.90 L307.00,194.10 L300.50,196.50 Z" fill="#000" stroke="none" stroke-width="1" />
<path d="M298.00,189.90 L300.50,189.90 L307.00,191.50 L307.00,191.90 L300.50,193.50 L298.00,193.50 Z" fill="#fff" stroke="none" stroke-width="1" />
<path d="M266.50,248.40 L259.20,250.80 L254.20,251.00 L254.20,252.30 L251.20,252.30 L251.20,254.10 L254.20,254.10 L254.20,255.40 L259.20,255.60 L266.50,258.00 Z" fill="#000" stroke="none" stroke-width="1" />
<path d="M269.00,251.40 L266.50,251.40 L259.20,253.00 L259.20,253.40 L266.50,255.00 L269.00,255.00 Z" fill="#fff" stroke="none" stroke-width="1" />
<path d="M56.50,290.20 L50.10,292.60 L45.10,292.80 L45.10,294.10 L42.10,294.10 L42.10,295.90 L45.10,295.90 L45.10,297.20 L50.10,297.40 L56.50,299.80 Z" fill="#000" stroke="none" stroke-width="1" />
<path d="M59.00,293.20 L56.50,293.20 L50.10,294.80 L50.10,295.20 L56.50,296.80 L59.00,296.80 Z" fill="#fff" stroke="none" stroke-width="1" />
<path d="M527.50,141.50 L533.10,143.90 L538.10,144.10 L538.10,145.40 L541.10,145.40 L541.10,147.20 L538.10,147.20 L538.10,148.50 L533.10,148.70 L527.50,151.10 Z" fill="#000" stroke="none" stroke-width="1" />
<path d="M525.00,144.50 L527.50,144.50 L533.10,146.10 L533.10,146.50 L527.50,148.10 L525.00,148.10 Z" fill="#fff" stroke="none" stroke-width="1" />
<path d="M385.50,271.70 L392.00,274.10 L397.00,274.30 L397.00,275.60 L400.00,275.60 L400.00,277.40 L397.00,277.40 L397.00,278.70 L392.00,278.90 L385.50,281.30 Z" fill="#000" stroke="none" stroke-width="1" />
<path d="M383.00,274.70 L385.50,274.70 L392.00,276.30 L392.00,276.70 L385.50,278.30 L383.00,278.30 Z" fill="#fff" stroke="none" stroke-width="1" />
<path d="M748.40,316.20 L741.50,318.60 L736.50,318.80 L736.50,320.10 L733.50,320.10 L733.50,321.90 L736.50,321.90 L736.50,323.20 L741.50,323.40 L748.40,325.80 Z" fill="#000" stroke="none" stroke-width="1" />
<path d="M750.90,319.20 L748.40,319.20 L741.50,320.80 L741.50,321.20 L748.40,322.80 L750.90,322.80 Z" fill="#fff" stroke="none" stroke-width="1" />
<path d="M753.60,377.20 L755.60,385.80 L755.80,390.80 L757.10,390.80 L757.10,393.80 L758.90,393.80 L758.90,390.80 L760.20,390.80 L760.40,385.80 L762.40,377.20 Z" fill="#000" stroke="none" stroke-width="1" />
<path d="M756.70,374.70 L756.70,377.20 L757.80,385.80 L758.20,385.80 L759.30,377.20 L759.30,374.70 Z" fill="#fff" stroke="none" stroke-width="1" />
<path d="M642.60,433.00 L644.60,442.10 L644.80,447.10 L646.10,447.10 L646.10,450.10 L647.90,450.10 L647.90,447.10 L649.20,447.10 L649.40,442.10 L651.40,433.00 Z" fill="#000" stroke="none" stroke-width="1" />
<path d="M645.70,430.50 L645.70,433.00 L646.80,442.10 L647.20,442.10 L648.30,433.00 L648.30,430.50 Z" fill="#fff" stroke="none" stroke-width="1" />
<path d="M515,104.2 L503.8,114.2" fill="none" stroke="#000" stroke-width="3" />
<path d="M514.5,104.2 L506,112" fill="none" stroke="#fff" stroke-width="1" />
<g aria-label="MH1073" fill="none" stroke="#000" stroke-width="1.25" stroke-linejoin="miter" stroke-linecap="butt"><path transform="translate(596.18,140.91) scale(0.879)" d="M0.5,10 V0 L3.1,7.2 L5.7,0 V10"/><path transform="translate(605.06,140.91) scale(0.879)" d="M0.5,0 V10 M5.5,0 V10 M0.5,4.8 H5.5"/><path transform="translate(611.95,140.91) scale(0.879)" d="M2.9,10 V0.2 L0.4,2.8"/><path transform="translate(619.20,140.91) scale(0.879)" d="M2.5,0.5 L4.5,3.2 V6.8 L2.5,9.5 L0.5,6.8 V3.2 Z"/><path transform="translate(626.36,140.91) scale(0.879)" d="M0.5,0.5 H4.6 Q2.6,4.2 1.9,10"/><path transform="translate(631.97,140.91) scale(0.879)" d="M0.5,1.6 Q1,0.5 2.6,0.5 Q4.7,0.5 4.7,2.6 Q4.7,4.7 2.4,4.7 M2.4,4.7 Q4.8,4.7 4.8,7.1 Q4.8,9.5 2.6,9.5 Q1,9.5 0.5,8.3"/></g>
</svg>
</body></html>
